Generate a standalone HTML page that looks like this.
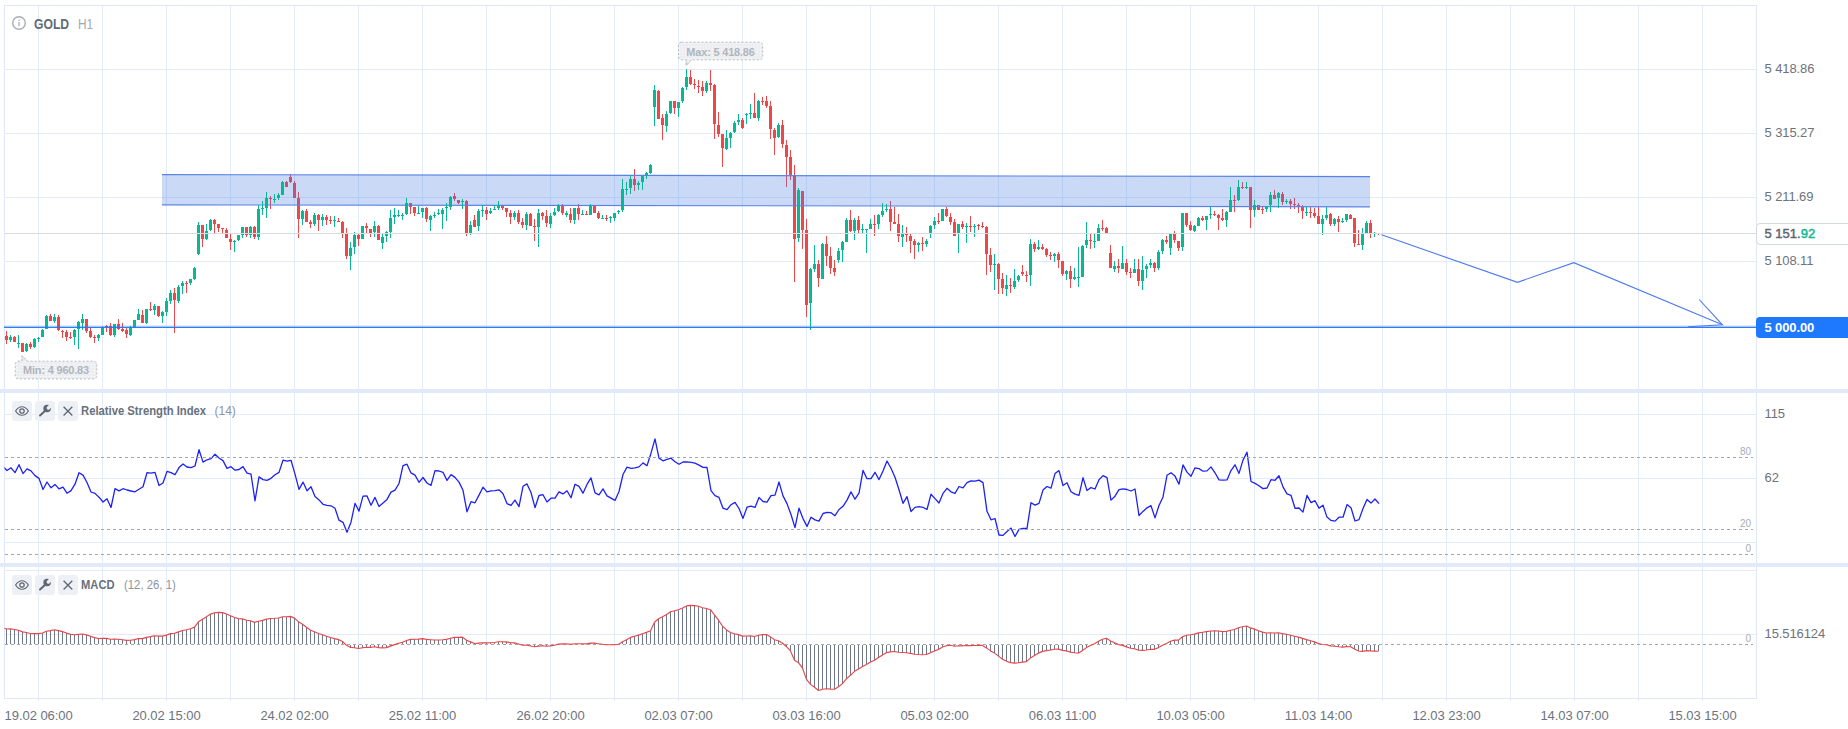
<!DOCTYPE html>
<html><head><meta charset="utf-8"><title>GOLD H1</title>
<style>
html,body{margin:0;padding:0;background:#fff;}
body{width:1848px;height:729px;position:relative;overflow:hidden;font-family:"Liberation Sans",sans-serif;}
#chart{position:absolute;left:0;top:0;}
.ax{position:absolute;left:1764.5px;font-size:13px;line-height:16px;color:#6d737b;white-space:nowrap;letter-spacing:-0.1px}
.tl{position:absolute;top:708px;font-size:13px;line-height:16px;color:#6d737b;white-space:nowrap;letter-spacing:-0.04px}
.tl.c{transform:translateX(-50%);}
.sm{position:absolute;font-size:10px;line-height:12px;color:#a9aeb6;text-align:right;width:30px;left:1721px}
.btn{position:absolute;width:20px;height:20px;border-radius:3px;background:#edf0f5;}
.btn svg{display:block}
.ttl{position:absolute;font-size:12px;line-height:14px;color:#68717d;white-space:nowrap;font-weight:bold;transform-origin:0 50%;}
.par{position:absolute;font-size:12px;line-height:14px;color:#8d949e;white-space:nowrap;transform-origin:0 50%;}
.tag{position:absolute;font-size:11px;line-height:16px;height:16px;font-weight:bold;color:#b1b5bc;letter-spacing:-0.2px;white-space:nowrap;text-align:center;}
</style></head><body>
<svg id="chart" width="1848" height="729" viewBox="0 0 1848 729" shape-rendering="crispEdges">
<defs><clipPath id="cl"><rect x="4.5" y="0" width="1752" height="729"/></clipPath></defs>
<rect x="38" y="5" width="1" height="694" fill="#e3ebfb"/>
<rect x="102" y="5" width="1" height="694" fill="#e3ebfb"/>
<rect x="166" y="5" width="1" height="694" fill="#e3ebfb"/>
<rect x="230" y="5" width="1" height="694" fill="#e3ebfb"/>
<rect x="294" y="5" width="1" height="694" fill="#e3ebfb"/>
<rect x="358" y="5" width="1" height="694" fill="#e3ebfb"/>
<rect x="422" y="5" width="1" height="694" fill="#e3ebfb"/>
<rect x="486" y="5" width="1" height="694" fill="#e3ebfb"/>
<rect x="550" y="5" width="1" height="694" fill="#e3ebfb"/>
<rect x="614" y="5" width="1" height="694" fill="#e3ebfb"/>
<rect x="678" y="5" width="1" height="694" fill="#e3ebfb"/>
<rect x="742" y="5" width="1" height="694" fill="#e3ebfb"/>
<rect x="806" y="5" width="1" height="694" fill="#e3ebfb"/>
<rect x="870" y="5" width="1" height="694" fill="#e3ebfb"/>
<rect x="934" y="5" width="1" height="694" fill="#e3ebfb"/>
<rect x="998" y="5" width="1" height="694" fill="#e3ebfb"/>
<rect x="1062" y="5" width="1" height="694" fill="#e3ebfb"/>
<rect x="1126" y="5" width="1" height="694" fill="#e3ebfb"/>
<rect x="1190" y="5" width="1" height="694" fill="#e3ebfb"/>
<rect x="1254" y="5" width="1" height="694" fill="#e3ebfb"/>
<rect x="1318" y="5" width="1" height="694" fill="#e3ebfb"/>
<rect x="1382" y="5" width="1" height="694" fill="#e3ebfb"/>
<rect x="1446" y="5" width="1" height="694" fill="#e3ebfb"/>
<rect x="1510" y="5" width="1" height="694" fill="#e3ebfb"/>
<rect x="1574" y="5" width="1" height="694" fill="#e3ebfb"/>
<rect x="1638" y="5" width="1" height="694" fill="#e3ebfb"/>
<rect x="1702" y="5" width="1" height="694" fill="#e3ebfb"/>
<rect x="4" y="69" width="1753" height="1" fill="#e3ebfb"/>
<rect x="4" y="133" width="1753" height="1" fill="#e3ebfb"/>
<rect x="4" y="197" width="1753" height="1" fill="#e3ebfb"/>
<rect x="4" y="261" width="1753" height="1" fill="#e3ebfb"/>
<rect x="4" y="325" width="1753" height="1" fill="#e3ebfb"/>
<rect x="4" y="414" width="1753" height="1" fill="#e3ebfb"/>
<rect x="4" y="478" width="1753" height="1" fill="#e3ebfb"/>
<rect x="4" y="542" width="1753" height="1" fill="#e3ebfb"/>
<rect x="4" y="570" width="1753" height="1" fill="#e3ebfb"/>
<rect x="4" y="634" width="1753" height="1" fill="#e3ebfb"/>
<rect x="4" y="5" width="1753" height="1" fill="#dfe7fb"/>
<rect x="4" y="698" width="1753" height="1" fill="#dfe7fb"/>
<rect x="4" y="5" width="1" height="694" fill="#dfe7fb"/>
<rect x="1756" y="5" width="1" height="694" fill="#dfe7fb"/>
<rect x="38" y="699" width="1" height="2" fill="#dfe7fb"/>
<rect x="102" y="699" width="1" height="2" fill="#dfe7fb"/>
<rect x="166" y="699" width="1" height="2" fill="#dfe7fb"/>
<rect x="230" y="699" width="1" height="2" fill="#dfe7fb"/>
<rect x="294" y="699" width="1" height="2" fill="#dfe7fb"/>
<rect x="358" y="699" width="1" height="2" fill="#dfe7fb"/>
<rect x="422" y="699" width="1" height="2" fill="#dfe7fb"/>
<rect x="486" y="699" width="1" height="2" fill="#dfe7fb"/>
<rect x="550" y="699" width="1" height="2" fill="#dfe7fb"/>
<rect x="614" y="699" width="1" height="2" fill="#dfe7fb"/>
<rect x="678" y="699" width="1" height="2" fill="#dfe7fb"/>
<rect x="742" y="699" width="1" height="2" fill="#dfe7fb"/>
<rect x="806" y="699" width="1" height="2" fill="#dfe7fb"/>
<rect x="870" y="699" width="1" height="2" fill="#dfe7fb"/>
<rect x="934" y="699" width="1" height="2" fill="#dfe7fb"/>
<rect x="998" y="699" width="1" height="2" fill="#dfe7fb"/>
<rect x="1062" y="699" width="1" height="2" fill="#dfe7fb"/>
<rect x="1126" y="699" width="1" height="2" fill="#dfe7fb"/>
<rect x="1190" y="699" width="1" height="2" fill="#dfe7fb"/>
<rect x="1254" y="699" width="1" height="2" fill="#dfe7fb"/>
<rect x="1318" y="699" width="1" height="2" fill="#dfe7fb"/>
<rect x="1382" y="699" width="1" height="2" fill="#dfe7fb"/>
<rect x="1446" y="699" width="1" height="2" fill="#dfe7fb"/>
<rect x="1510" y="699" width="1" height="2" fill="#dfe7fb"/>
<rect x="1574" y="699" width="1" height="2" fill="#dfe7fb"/>
<rect x="1638" y="699" width="1" height="2" fill="#dfe7fb"/>
<rect x="1702" y="699" width="1" height="2" fill="#dfe7fb"/>
<rect x="0" y="389" width="1848" height="4" fill="#e2e9f9"/>
<rect x="0" y="563" width="1848" height="4" fill="#e2e9f9"/>
<g><rect x="6.0" y="331.3" width="1" height="12.8" fill="#ec4749"/><rect x="5.0" y="336.1" width="3" height="4.2" fill="#ec4749"/><rect x="14.0" y="336.1" width="1" height="5.7" fill="#ec4749"/><rect x="13.0" y="336.6" width="3" height="5.2" fill="#ec4749"/><rect x="22.0" y="343.1" width="1" height="8.8" fill="#ec4749"/><rect x="21.0" y="343.1" width="3" height="8.8" fill="#ec4749"/><rect x="30.0" y="342.0" width="1" height="6.9" fill="#ec4749"/><rect x="29.0" y="344.1" width="3" height="3.0" fill="#ec4749"/><rect x="50.0" y="314.2" width="1" height="6.6" fill="#ec4749"/><rect x="49.0" y="316.0" width="3" height="4.8" fill="#ec4749"/><rect x="58.0" y="315.0" width="1" height="15.8" fill="#ec4749"/><rect x="57.0" y="316.7" width="3" height="13.3" fill="#ec4749"/><rect x="62.0" y="330.0" width="1" height="7.9" fill="#ec4749"/><rect x="61.0" y="330.8" width="3" height="1.0" fill="#ec4749"/><rect x="66.0" y="330.0" width="1" height="10.9" fill="#ec4749"/><rect x="65.0" y="332.0" width="3" height="4.8" fill="#ec4749"/><rect x="70.0" y="332.0" width="1" height="7.0" fill="#ec4749"/><rect x="69.0" y="336.8" width="3" height="1.4" fill="#ec4749"/><rect x="86.0" y="319.1" width="1" height="13.7" fill="#ec4749"/><rect x="85.0" y="319.1" width="3" height="11.7" fill="#ec4749"/><rect x="90.0" y="327.9" width="1" height="10.0" fill="#ec4749"/><rect x="89.0" y="331.1" width="3" height="6.1" fill="#ec4749"/><rect x="94.0" y="335.2" width="1" height="7.5" fill="#ec4749"/><rect x="93.0" y="336.8" width="3" height="1.1" fill="#ec4749"/><rect x="106.0" y="324.9" width="1" height="6.8" fill="#ec4749"/><rect x="105.0" y="325.6" width="3" height="1.8" fill="#ec4749"/><rect x="110.0" y="323.1" width="1" height="12.8" fill="#ec4749"/><rect x="109.0" y="325.6" width="3" height="9.6" fill="#ec4749"/><rect x="118.0" y="319.1" width="1" height="10.9" fill="#ec4749"/><rect x="117.0" y="324.2" width="3" height="4.5" fill="#ec4749"/><rect x="122.0" y="323.1" width="1" height="8.9" fill="#ec4749"/><rect x="121.0" y="329.3" width="3" height="1.8" fill="#ec4749"/><rect x="126.0" y="328.3" width="1" height="9.6" fill="#ec4749"/><rect x="125.0" y="330.0" width="3" height="4.1" fill="#ec4749"/><rect x="142.0" y="310.2" width="1" height="12.6" fill="#ec4749"/><rect x="141.0" y="314.6" width="3" height="8.2" fill="#ec4749"/><rect x="150.0" y="302.2" width="1" height="9.0" fill="#ec4749"/><rect x="149.0" y="308.8" width="3" height="1.4" fill="#ec4749"/><rect x="158.0" y="306.1" width="1" height="11.0" fill="#ec4749"/><rect x="157.0" y="306.1" width="3" height="10.1" fill="#ec4749"/><rect x="174.0" y="288.0" width="1" height="45.0" fill="#ec4749"/><rect x="173.0" y="293.2" width="3" height="6.8" fill="#ec4749"/><rect x="186.0" y="281.2" width="1" height="11.9" fill="#ec4749"/><rect x="185.0" y="282.9" width="3" height="1.0" fill="#ec4749"/><rect x="202.0" y="224.9" width="1" height="22.2" fill="#ec4749"/><rect x="201.0" y="224.9" width="3" height="14.0" fill="#ec4749"/><rect x="214.0" y="219.0" width="1" height="14.1" fill="#ec4749"/><rect x="213.0" y="220.0" width="3" height="3.8" fill="#ec4749"/><rect x="218.0" y="224.1" width="1" height="7.9" fill="#ec4749"/><rect x="217.0" y="224.1" width="3" height="4.1" fill="#ec4749"/><rect x="222.0" y="228.2" width="1" height="4.5" fill="#ec4749"/><rect x="221.0" y="228.1" width="3" height="1.0" fill="#ec4749"/><rect x="226.0" y="227.9" width="1" height="10.0" fill="#ec4749"/><rect x="225.0" y="230.0" width="3" height="7.9" fill="#ec4749"/><rect x="230.0" y="234.1" width="1" height="16.1" fill="#ec4749"/><rect x="229.0" y="238.9" width="3" height="3.2" fill="#ec4749"/><rect x="246.0" y="227.0" width="1" height="9.8" fill="#ec4749"/><rect x="245.0" y="227.0" width="3" height="8.1" fill="#ec4749"/><rect x="254.0" y="225.9" width="1" height="13.0" fill="#ec4749"/><rect x="253.0" y="227.0" width="3" height="10.1" fill="#ec4749"/><rect x="270.0" y="196.0" width="1" height="13.0" fill="#ec4749"/><rect x="269.0" y="198.1" width="3" height="1.0" fill="#ec4749"/><rect x="286.0" y="181.0" width="1" height="5.8" fill="#ec4749"/><rect x="285.0" y="182.0" width="3" height="4.8" fill="#ec4749"/><rect x="290.0" y="174.1" width="1" height="8.8" fill="#ec4749"/><rect x="289.0" y="177.4" width="3" height="4.6" fill="#ec4749"/><rect x="294.0" y="181.0" width="1" height="16.7" fill="#ec4749"/><rect x="293.0" y="182.9" width="3" height="14.8" fill="#ec4749"/><rect x="298.0" y="192.0" width="1" height="45.9" fill="#ec4749"/><rect x="297.0" y="198.1" width="3" height="20.6" fill="#ec4749"/><rect x="306.0" y="209.0" width="1" height="12.7" fill="#ec4749"/><rect x="305.0" y="211.0" width="3" height="10.7" fill="#ec4749"/><rect x="310.0" y="220.0" width="1" height="7.9" fill="#ec4749"/><rect x="309.0" y="222.0" width="3" height="1.8" fill="#ec4749"/><rect x="318.0" y="213.9" width="1" height="17.0" fill="#ec4749"/><rect x="317.0" y="214.9" width="3" height="4.8" fill="#ec4749"/><rect x="326.0" y="214.9" width="1" height="10.0" fill="#ec4749"/><rect x="325.0" y="216.9" width="3" height="3.1" fill="#ec4749"/><rect x="330.0" y="216.0" width="1" height="7.8" fill="#ec4749"/><rect x="329.0" y="220.0" width="3" height="1.1" fill="#ec4749"/><rect x="338.0" y="217.9" width="1" height="3.8" fill="#ec4749"/><rect x="337.0" y="220.8" width="3" height="1.0" fill="#ec4749"/><rect x="342.0" y="221.1" width="1" height="16.8" fill="#ec4749"/><rect x="341.0" y="222.0" width="3" height="11.0" fill="#ec4749"/><rect x="346.0" y="228.0" width="1" height="30.9" fill="#ec4749"/><rect x="345.0" y="233.9" width="3" height="21.6" fill="#ec4749"/><rect x="358.0" y="233.9" width="1" height="12.0" fill="#ec4749"/><rect x="357.0" y="234.9" width="3" height="3.8" fill="#ec4749"/><rect x="366.0" y="223.2" width="1" height="9.6" fill="#ec4749"/><rect x="365.0" y="226.2" width="3" height="1.8" fill="#ec4749"/><rect x="370.0" y="229.1" width="1" height="7.6" fill="#ec4749"/><rect x="369.0" y="229.1" width="3" height="4.0" fill="#ec4749"/><rect x="378.0" y="225.0" width="1" height="14.7" fill="#ec4749"/><rect x="377.0" y="226.2" width="3" height="13.5" fill="#ec4749"/><rect x="410.0" y="202.9" width="1" height="11.1" fill="#ec4749"/><rect x="409.0" y="203.3" width="3" height="3.5" fill="#ec4749"/><rect x="414.0" y="207.0" width="1" height="9.0" fill="#ec4749"/><rect x="413.0" y="207.0" width="3" height="5.9" fill="#ec4749"/><rect x="426.0" y="207.0" width="1" height="14.9" fill="#ec4749"/><rect x="425.0" y="208.1" width="3" height="11.0" fill="#ec4749"/><rect x="454.0" y="193.0" width="1" height="7.9" fill="#ec4749"/><rect x="453.0" y="196.1" width="3" height="2.8" fill="#ec4749"/><rect x="458.0" y="200.2" width="1" height="3.8" fill="#ec4749"/><rect x="457.0" y="200.2" width="3" height="2.7" fill="#ec4749"/><rect x="466.0" y="199.9" width="1" height="35.9" fill="#ec4749"/><rect x="465.0" y="200.9" width="3" height="31.9" fill="#ec4749"/><rect x="474.0" y="215.0" width="1" height="11.9" fill="#ec4749"/><rect x="473.0" y="220.1" width="3" height="6.8" fill="#ec4749"/><rect x="486.0" y="207.0" width="1" height="13.1" fill="#ec4749"/><rect x="485.0" y="210.2" width="3" height="3.8" fill="#ec4749"/><rect x="502.0" y="204.9" width="1" height="5.1" fill="#ec4749"/><rect x="501.0" y="204.9" width="3" height="3.0" fill="#ec4749"/><rect x="506.0" y="208.3" width="1" height="8.7" fill="#ec4749"/><rect x="505.0" y="208.3" width="3" height="3.4" fill="#ec4749"/><rect x="510.0" y="210.0" width="1" height="14.1" fill="#ec4749"/><rect x="509.0" y="213.1" width="3" height="3.9" fill="#ec4749"/><rect x="518.0" y="210.0" width="1" height="14.1" fill="#ec4749"/><rect x="517.0" y="213.1" width="3" height="8.9" fill="#ec4749"/><rect x="522.0" y="218.2" width="1" height="9.7" fill="#ec4749"/><rect x="521.0" y="222.0" width="3" height="3.1" fill="#ec4749"/><rect x="530.0" y="213.1" width="1" height="12.8" fill="#ec4749"/><rect x="529.0" y="214.1" width="3" height="11.8" fill="#ec4749"/><rect x="534.0" y="219.0" width="1" height="22.0" fill="#ec4749"/><rect x="533.0" y="225.9" width="3" height="1.0" fill="#ec4749"/><rect x="542.0" y="212.0" width="1" height="8.0" fill="#ec4749"/><rect x="541.0" y="213.1" width="3" height="2.8" fill="#ec4749"/><rect x="546.0" y="210.0" width="1" height="17.1" fill="#ec4749"/><rect x="545.0" y="216.1" width="3" height="7.0" fill="#ec4749"/><rect x="562.0" y="203.9" width="1" height="11.3" fill="#ec4749"/><rect x="561.0" y="205.8" width="3" height="6.9" fill="#ec4749"/><rect x="570.0" y="207.9" width="1" height="15.2" fill="#ec4749"/><rect x="569.0" y="214.1" width="3" height="5.9" fill="#ec4749"/><rect x="578.0" y="203.9" width="1" height="16.1" fill="#ec4749"/><rect x="577.0" y="207.9" width="3" height="6.2" fill="#ec4749"/><rect x="586.0" y="211.1" width="1" height="3.8" fill="#ec4749"/><rect x="585.0" y="214.0" width="3" height="1.0" fill="#ec4749"/><rect x="594.0" y="205.8" width="1" height="6.9" fill="#ec4749"/><rect x="593.0" y="205.8" width="3" height="6.9" fill="#ec4749"/><rect x="598.0" y="211.1" width="1" height="7.9" fill="#ec4749"/><rect x="597.0" y="213.1" width="3" height="4.8" fill="#ec4749"/><rect x="606.0" y="215.2" width="1" height="5.7" fill="#ec4749"/><rect x="605.0" y="217.9" width="3" height="1.1" fill="#ec4749"/><rect x="634.0" y="168.9" width="1" height="22.0" fill="#ec4749"/><rect x="633.0" y="179.1" width="3" height="5.9" fill="#ec4749"/><rect x="658.0" y="89.9" width="1" height="28.8" fill="#ec4749"/><rect x="657.0" y="90.9" width="3" height="27.8" fill="#ec4749"/><rect x="662.0" y="113.9" width="1" height="26.1" fill="#ec4749"/><rect x="661.0" y="117.9" width="3" height="6.9" fill="#ec4749"/><rect x="674.0" y="101.2" width="1" height="12.7" fill="#ec4749"/><rect x="673.0" y="101.2" width="3" height="6.6" fill="#ec4749"/><rect x="690.0" y="70.0" width="1" height="15.1" fill="#ec4749"/><rect x="689.0" y="76.9" width="3" height="7.1" fill="#ec4749"/><rect x="694.0" y="78.9" width="1" height="10.2" fill="#ec4749"/><rect x="693.0" y="84.0" width="3" height="1.1" fill="#ec4749"/><rect x="698.0" y="79.9" width="1" height="13.0" fill="#ec4749"/><rect x="697.0" y="85.8" width="3" height="1.0" fill="#ec4749"/><rect x="702.0" y="80.9" width="1" height="15.1" fill="#ec4749"/><rect x="701.0" y="87.0" width="3" height="3.9" fill="#ec4749"/><rect x="710.0" y="70.0" width="1" height="20.9" fill="#ec4749"/><rect x="709.0" y="83.3" width="3" height="1.7" fill="#ec4749"/><rect x="714.0" y="84.0" width="1" height="54.9" fill="#ec4749"/><rect x="713.0" y="85.0" width="3" height="38.8" fill="#ec4749"/><rect x="718.0" y="112.1" width="1" height="24.7" fill="#ec4749"/><rect x="717.0" y="125.2" width="3" height="8.9" fill="#ec4749"/><rect x="722.0" y="134.1" width="1" height="32.5" fill="#ec4749"/><rect x="721.0" y="134.1" width="3" height="13.7" fill="#ec4749"/><rect x="742.0" y="117.9" width="1" height="11.1" fill="#ec4749"/><rect x="741.0" y="120.0" width="3" height="7.9" fill="#ec4749"/><rect x="754.0" y="92.9" width="1" height="25.0" fill="#ec4749"/><rect x="753.0" y="113.1" width="3" height="4.8" fill="#ec4749"/><rect x="762.0" y="97.0" width="1" height="8.0" fill="#ec4749"/><rect x="761.0" y="100.9" width="3" height="1.0" fill="#ec4749"/><rect x="766.0" y="96.0" width="1" height="12.0" fill="#ec4749"/><rect x="765.0" y="100.9" width="3" height="5.1" fill="#ec4749"/><rect x="770.0" y="100.9" width="1" height="38.0" fill="#ec4749"/><rect x="769.0" y="106.0" width="3" height="22.9" fill="#ec4749"/><rect x="774.0" y="127.9" width="1" height="27.1" fill="#ec4749"/><rect x="773.0" y="130.0" width="3" height="7.9" fill="#ec4749"/><rect x="782.0" y="120.0" width="1" height="27.8" fill="#ec4749"/><rect x="781.0" y="124.9" width="3" height="18.8" fill="#ec4749"/><rect x="786.0" y="140.0" width="1" height="46.7" fill="#ec4749"/><rect x="785.0" y="145.1" width="3" height="11.9" fill="#ec4749"/><rect x="790.0" y="149.9" width="1" height="29.9" fill="#ec4749"/><rect x="789.0" y="157.0" width="3" height="18.0" fill="#ec4749"/><rect x="794.0" y="164.9" width="1" height="117.2" fill="#ec4749"/><rect x="793.0" y="176.1" width="3" height="62.8" fill="#ec4749"/><rect x="802.0" y="191.0" width="1" height="57.9" fill="#ec4749"/><rect x="801.0" y="191.0" width="3" height="39.0" fill="#ec4749"/><rect x="806.0" y="219.0" width="1" height="98.0" fill="#ec4749"/><rect x="805.0" y="230.0" width="3" height="74.8" fill="#ec4749"/><rect x="818.0" y="259.9" width="1" height="27.0" fill="#ec4749"/><rect x="817.0" y="264.0" width="3" height="14.0" fill="#ec4749"/><rect x="826.0" y="235.9" width="1" height="30.0" fill="#ec4749"/><rect x="825.0" y="244.0" width="3" height="11.8" fill="#ec4749"/><rect x="830.0" y="247.1" width="1" height="26.8" fill="#ec4749"/><rect x="829.0" y="256.1" width="3" height="11.9" fill="#ec4749"/><rect x="834.0" y="259.9" width="1" height="16.1" fill="#ec4749"/><rect x="833.0" y="268.0" width="3" height="3.8" fill="#ec4749"/><rect x="850.0" y="210.1" width="1" height="21.9" fill="#ec4749"/><rect x="849.0" y="220.0" width="3" height="11.0" fill="#ec4749"/><rect x="858.0" y="215.9" width="1" height="17.2" fill="#ec4749"/><rect x="857.0" y="220.0" width="3" height="10.0" fill="#ec4749"/><rect x="874.0" y="214.9" width="1" height="21.0" fill="#ec4749"/><rect x="873.0" y="224.0" width="3" height="1.0" fill="#ec4749"/><rect x="890.0" y="200.9" width="1" height="30.1" fill="#ec4749"/><rect x="889.0" y="208.7" width="3" height="13.1" fill="#ec4749"/><rect x="894.0" y="207.1" width="1" height="16.7" fill="#ec4749"/><rect x="893.0" y="222.4" width="3" height="1.4" fill="#ec4749"/><rect x="898.0" y="213.9" width="1" height="28.0" fill="#ec4749"/><rect x="897.0" y="224.1" width="3" height="11.8" fill="#ec4749"/><rect x="906.0" y="227.0" width="1" height="14.9" fill="#ec4749"/><rect x="905.0" y="234.1" width="3" height="1.0" fill="#ec4749"/><rect x="910.0" y="234.1" width="1" height="18.8" fill="#ec4749"/><rect x="909.0" y="235.9" width="3" height="5.1" fill="#ec4749"/><rect x="914.0" y="238.9" width="1" height="20.2" fill="#ec4749"/><rect x="913.0" y="241.0" width="3" height="3.8" fill="#ec4749"/><rect x="922.0" y="236.9" width="1" height="13.9" fill="#ec4749"/><rect x="921.0" y="243.0" width="3" height="1.0" fill="#ec4749"/><rect x="938.0" y="213.0" width="1" height="11.0" fill="#ec4749"/><rect x="937.0" y="221.2" width="3" height="1.0" fill="#ec4749"/><rect x="946.0" y="206.9" width="1" height="10.0" fill="#ec4749"/><rect x="945.0" y="208.9" width="3" height="6.9" fill="#ec4749"/><rect x="950.0" y="213.0" width="1" height="12.0" fill="#ec4749"/><rect x="949.0" y="217.2" width="3" height="4.8" fill="#ec4749"/><rect x="954.0" y="218.9" width="1" height="17.1" fill="#ec4749"/><rect x="953.0" y="222.0" width="3" height="14.0" fill="#ec4749"/><rect x="962.0" y="221.0" width="1" height="8.1" fill="#ec4749"/><rect x="961.0" y="224.0" width="3" height="2.8" fill="#ec4749"/><rect x="970.0" y="216.1" width="1" height="15.9" fill="#ec4749"/><rect x="969.0" y="226.1" width="3" height="1.3" fill="#ec4749"/><rect x="978.0" y="224.0" width="1" height="5.9" fill="#ec4749"/><rect x="977.0" y="224.9" width="3" height="1.0" fill="#ec4749"/><rect x="982.0" y="222.0" width="1" height="5.9" fill="#ec4749"/><rect x="981.0" y="225.8" width="3" height="1.0" fill="#ec4749"/><rect x="986.0" y="226.1" width="1" height="49.0" fill="#ec4749"/><rect x="985.0" y="227.0" width="3" height="26.9" fill="#ec4749"/><rect x="990.0" y="248.0" width="1" height="24.0" fill="#ec4749"/><rect x="989.0" y="254.9" width="3" height="10.0" fill="#ec4749"/><rect x="998.0" y="262.8" width="1" height="31.2" fill="#ec4749"/><rect x="997.0" y="263.8" width="3" height="15.1" fill="#ec4749"/><rect x="1002.0" y="273.1" width="1" height="20.9" fill="#ec4749"/><rect x="1001.0" y="279.2" width="3" height="8.6" fill="#ec4749"/><rect x="1010.0" y="277.9" width="1" height="15.1" fill="#ec4749"/><rect x="1009.0" y="285.1" width="3" height="1.0" fill="#ec4749"/><rect x="1022.0" y="264.9" width="1" height="11.0" fill="#ec4749"/><rect x="1021.0" y="272.0" width="3" height="2.1" fill="#ec4749"/><rect x="1026.0" y="270.9" width="1" height="11.0" fill="#ec4749"/><rect x="1025.0" y="274.8" width="3" height="1.0" fill="#ec4749"/><rect x="1034.0" y="242.1" width="1" height="9.8" fill="#ec4749"/><rect x="1033.0" y="243.9" width="3" height="5.1" fill="#ec4749"/><rect x="1042.0" y="243.9" width="1" height="6.2" fill="#ec4749"/><rect x="1041.0" y="246.9" width="3" height="2.1" fill="#ec4749"/><rect x="1046.0" y="248.0" width="1" height="8.9" fill="#ec4749"/><rect x="1045.0" y="249.0" width="3" height="5.9" fill="#ec4749"/><rect x="1050.0" y="252.1" width="1" height="7.9" fill="#ec4749"/><rect x="1049.0" y="255.2" width="3" height="1.1" fill="#ec4749"/><rect x="1058.0" y="252.1" width="1" height="15.8" fill="#ec4749"/><rect x="1057.0" y="253.9" width="3" height="6.1" fill="#ec4749"/><rect x="1062.0" y="261.1" width="1" height="14.8" fill="#ec4749"/><rect x="1061.0" y="261.1" width="3" height="13.0" fill="#ec4749"/><rect x="1070.0" y="266.1" width="1" height="21.7" fill="#ec4749"/><rect x="1069.0" y="270.9" width="3" height="8.0" fill="#ec4749"/><rect x="1090.0" y="234.1" width="1" height="14.8" fill="#ec4749"/><rect x="1089.0" y="240.0" width="3" height="1.0" fill="#ec4749"/><rect x="1102.0" y="220.1" width="1" height="10.9" fill="#ec4749"/><rect x="1101.0" y="227.9" width="3" height="1.0" fill="#ec4749"/><rect x="1106.0" y="227.0" width="1" height="5.7" fill="#ec4749"/><rect x="1105.0" y="227.9" width="3" height="4.8" fill="#ec4749"/><rect x="1110.0" y="245.1" width="1" height="22.9" fill="#ec4749"/><rect x="1109.0" y="252.9" width="3" height="15.1" fill="#ec4749"/><rect x="1118.0" y="259.1" width="1" height="13.8" fill="#ec4749"/><rect x="1117.0" y="265.9" width="3" height="1.8" fill="#ec4749"/><rect x="1126.0" y="259.1" width="1" height="15.9" fill="#ec4749"/><rect x="1125.0" y="262.9" width="3" height="9.2" fill="#ec4749"/><rect x="1130.0" y="268.1" width="1" height="9.9" fill="#ec4749"/><rect x="1129.0" y="272.1" width="3" height="1.0" fill="#ec4749"/><rect x="1138.0" y="259.1" width="1" height="26.9" fill="#ec4749"/><rect x="1137.0" y="269.1" width="3" height="11.9" fill="#ec4749"/><rect x="1154.0" y="262.0" width="1" height="9.8" fill="#ec4749"/><rect x="1153.0" y="262.9" width="3" height="5.1" fill="#ec4749"/><rect x="1166.0" y="235.9" width="1" height="8.1" fill="#ec4749"/><rect x="1165.0" y="240.0" width="3" height="1.9" fill="#ec4749"/><rect x="1174.0" y="231.0" width="1" height="12.0" fill="#ec4749"/><rect x="1173.0" y="234.1" width="3" height="5.9" fill="#ec4749"/><rect x="1178.0" y="241.0" width="1" height="9.8" fill="#ec4749"/><rect x="1177.0" y="241.0" width="3" height="6.8" fill="#ec4749"/><rect x="1186.0" y="212.8" width="1" height="14.2" fill="#ec4749"/><rect x="1185.0" y="212.8" width="3" height="12.1" fill="#ec4749"/><rect x="1190.0" y="221.1" width="1" height="9.9" fill="#ec4749"/><rect x="1189.0" y="225.2" width="3" height="4.8" fill="#ec4749"/><rect x="1202.0" y="216.0" width="1" height="5.1" fill="#ec4749"/><rect x="1201.0" y="217.9" width="3" height="2.1" fill="#ec4749"/><rect x="1214.0" y="211.1" width="1" height="4.9" fill="#ec4749"/><rect x="1213.0" y="213.9" width="3" height="1.1" fill="#ec4749"/><rect x="1218.0" y="213.9" width="1" height="16.1" fill="#ec4749"/><rect x="1217.0" y="215.2" width="3" height="2.7" fill="#ec4749"/><rect x="1222.0" y="209.1" width="1" height="12.0" fill="#ec4749"/><rect x="1221.0" y="218.3" width="3" height="1.8" fill="#ec4749"/><rect x="1234.0" y="194.9" width="1" height="17.0" fill="#ec4749"/><rect x="1233.0" y="199.9" width="3" height="1.0" fill="#ec4749"/><rect x="1242.0" y="182.2" width="1" height="6.8" fill="#ec4749"/><rect x="1241.0" y="186.9" width="3" height="1.0" fill="#ec4749"/><rect x="1250.0" y="187.0" width="1" height="40.8" fill="#ec4749"/><rect x="1249.0" y="187.0" width="3" height="22.9" fill="#ec4749"/><rect x="1258.0" y="205.1" width="1" height="4.8" fill="#ec4749"/><rect x="1257.0" y="205.1" width="3" height="4.8" fill="#ec4749"/><rect x="1262.0" y="206.8" width="1" height="7.2" fill="#ec4749"/><rect x="1261.0" y="208.9" width="3" height="1.0" fill="#ec4749"/><rect x="1274.0" y="190.1" width="1" height="8.5" fill="#ec4749"/><rect x="1273.0" y="195.2" width="3" height="3.4" fill="#ec4749"/><rect x="1282.0" y="192.0" width="1" height="13.1" fill="#ec4749"/><rect x="1281.0" y="194.1" width="3" height="7.9" fill="#ec4749"/><rect x="1290.0" y="199.0" width="1" height="9.9" fill="#ec4749"/><rect x="1289.0" y="200.9" width="3" height="2.9" fill="#ec4749"/><rect x="1294.0" y="197.9" width="1" height="11.0" fill="#ec4749"/><rect x="1293.0" y="204.1" width="3" height="1.0" fill="#ec4749"/><rect x="1298.0" y="203.1" width="1" height="9.9" fill="#ec4749"/><rect x="1297.0" y="204.7" width="3" height="1.0" fill="#ec4749"/><rect x="1302.0" y="205.1" width="1" height="13.8" fill="#ec4749"/><rect x="1301.0" y="207.1" width="3" height="3.9" fill="#ec4749"/><rect x="1310.0" y="207.1" width="1" height="11.0" fill="#ec4749"/><rect x="1309.0" y="212.1" width="3" height="1.0" fill="#ec4749"/><rect x="1314.0" y="207.9" width="1" height="10.2" fill="#ec4749"/><rect x="1313.0" y="213.0" width="3" height="3.0" fill="#ec4749"/><rect x="1318.0" y="207.1" width="1" height="16.9" fill="#ec4749"/><rect x="1317.0" y="216.0" width="3" height="8.0" fill="#ec4749"/><rect x="1330.0" y="213.0" width="1" height="13.1" fill="#ec4749"/><rect x="1329.0" y="214.0" width="3" height="10.0" fill="#ec4749"/><rect x="1338.0" y="216.0" width="1" height="16.0" fill="#ec4749"/><rect x="1337.0" y="218.9" width="3" height="3.0" fill="#ec4749"/><rect x="1350.0" y="214.0" width="1" height="4.9" fill="#ec4749"/><rect x="1349.0" y="215.1" width="3" height="3.8" fill="#ec4749"/><rect x="1354.0" y="218.1" width="1" height="28.8" fill="#ec4749"/><rect x="1353.0" y="218.1" width="3" height="24.8" fill="#ec4749"/><rect x="1358.0" y="229.9" width="1" height="15.0" fill="#ec4749"/><rect x="1357.0" y="243.9" width="3" height="1.0" fill="#ec4749"/><rect x="1370.0" y="219.9" width="1" height="18.1" fill="#ec4749"/><rect x="1369.0" y="222.9" width="3" height="10.3" fill="#ec4749"/><rect x="1378.0" y="234.3" width="1" height="1" fill="#ec4749"/></g>
<polygon shape-rendering="geometricPrecision" points="162,174.6 1370,176.6 1370,206.8 162,204.8" fill="#4a7be0" fill-opacity="0.29"/>
<line shape-rendering="geometricPrecision" x1="162" y1="174.6" x2="1370" y2="176.6" stroke="#5a82e6" stroke-width="1.15"/>
<line shape-rendering="geometricPrecision" x1="162" y1="204.8" x2="1370" y2="206.8" stroke="#5a82e6" stroke-width="1.15"/>
<g><rect x="10.0" y="335.2" width="1" height="6.4" fill="#0bb793"/><rect x="9.0" y="336.8" width="3" height="3.5" fill="#0bb793"/><rect x="18.0" y="335.2" width="1" height="12.7" fill="#0bb793"/><rect x="17.0" y="343.1" width="3" height="1.0" fill="#0bb793"/><rect x="26.0" y="343.4" width="1" height="8.5" fill="#0bb793"/><rect x="25.0" y="344.1" width="3" height="7.1" fill="#0bb793"/><rect x="34.0" y="337.9" width="1" height="10.0" fill="#0bb793"/><rect x="33.0" y="339.0" width="3" height="8.1" fill="#0bb793"/><rect x="38.0" y="336.6" width="1" height="5.4" fill="#0bb793"/><rect x="37.0" y="337.6" width="3" height="1.0" fill="#0bb793"/><rect x="42.0" y="329.0" width="1" height="7.8" fill="#0bb793"/><rect x="41.0" y="329.7" width="3" height="7.1" fill="#0bb793"/><rect x="46.0" y="315.0" width="1" height="13.7" fill="#0bb793"/><rect x="45.0" y="316.0" width="3" height="12.7" fill="#0bb793"/><rect x="54.0" y="314.2" width="1" height="8.6" fill="#0bb793"/><rect x="53.0" y="316.9" width="3" height="4.1" fill="#0bb793"/><rect x="74.0" y="329.0" width="1" height="15.8" fill="#0bb793"/><rect x="73.0" y="329.7" width="3" height="7.1" fill="#0bb793"/><rect x="78.0" y="321.0" width="1" height="27.9" fill="#0bb793"/><rect x="77.0" y="321.9" width="3" height="6.8" fill="#0bb793"/><rect x="82.0" y="314.2" width="1" height="15.8" fill="#0bb793"/><rect x="81.0" y="319.1" width="3" height="3.7" fill="#0bb793"/><rect x="98.0" y="334.1" width="1" height="6.8" fill="#0bb793"/><rect x="97.0" y="335.2" width="3" height="2.7" fill="#0bb793"/><rect x="102.0" y="326.3" width="1" height="8.5" fill="#0bb793"/><rect x="101.0" y="327.4" width="3" height="7.4" fill="#0bb793"/><rect x="114.0" y="324.2" width="1" height="12.6" fill="#0bb793"/><rect x="113.0" y="324.2" width="3" height="11.0" fill="#0bb793"/><rect x="130.0" y="326.0" width="1" height="9.9" fill="#0bb793"/><rect x="129.0" y="326.9" width="3" height="8.3" fill="#0bb793"/><rect x="134.0" y="320.1" width="1" height="6.8" fill="#0bb793"/><rect x="133.0" y="320.1" width="3" height="6.8" fill="#0bb793"/><rect x="138.0" y="309.1" width="1" height="10.6" fill="#0bb793"/><rect x="137.0" y="313.9" width="3" height="5.8" fill="#0bb793"/><rect x="146.0" y="309.1" width="1" height="14.7" fill="#0bb793"/><rect x="145.0" y="309.1" width="3" height="13.7" fill="#0bb793"/><rect x="154.0" y="304.0" width="1" height="10.9" fill="#0bb793"/><rect x="153.0" y="306.0" width="3" height="3.8" fill="#0bb793"/><rect x="162.0" y="311.1" width="1" height="11.9" fill="#0bb793"/><rect x="161.0" y="312.0" width="3" height="3.7" fill="#0bb793"/><rect x="166.0" y="298.0" width="1" height="17.9" fill="#0bb793"/><rect x="165.0" y="301.1" width="3" height="10.7" fill="#0bb793"/><rect x="170.0" y="290.1" width="1" height="13.7" fill="#0bb793"/><rect x="169.0" y="293.2" width="3" height="7.6" fill="#0bb793"/><rect x="178.0" y="285.0" width="1" height="17.8" fill="#0bb793"/><rect x="177.0" y="286.7" width="3" height="14.1" fill="#0bb793"/><rect x="182.0" y="281.2" width="1" height="12.7" fill="#0bb793"/><rect x="181.0" y="283.0" width="3" height="3.0" fill="#0bb793"/><rect x="190.0" y="279.1" width="1" height="5.8" fill="#0bb793"/><rect x="189.0" y="279.1" width="3" height="3.9" fill="#0bb793"/><rect x="194.0" y="267.0" width="1" height="13.1" fill="#0bb793"/><rect x="193.0" y="267.9" width="3" height="11.2" fill="#0bb793"/><rect x="198.0" y="222.0" width="1" height="33.0" fill="#0bb793"/><rect x="197.0" y="224.9" width="3" height="29.1" fill="#0bb793"/><rect x="206.0" y="224.1" width="1" height="16.2" fill="#0bb793"/><rect x="205.0" y="231.1" width="3" height="8.2" fill="#0bb793"/><rect x="210.0" y="219.0" width="1" height="12.1" fill="#0bb793"/><rect x="209.0" y="220.0" width="3" height="10.0" fill="#0bb793"/><rect x="234.0" y="240.0" width="1" height="11.9" fill="#0bb793"/><rect x="233.0" y="241.0" width="3" height="1.1" fill="#0bb793"/><rect x="238.0" y="235.1" width="1" height="5.9" fill="#0bb793"/><rect x="237.0" y="235.1" width="3" height="4.9" fill="#0bb793"/><rect x="242.0" y="227.0" width="1" height="10.9" fill="#0bb793"/><rect x="241.0" y="227.0" width="3" height="8.1" fill="#0bb793"/><rect x="250.0" y="225.9" width="1" height="12.0" fill="#0bb793"/><rect x="249.0" y="227.0" width="3" height="8.1" fill="#0bb793"/><rect x="258.0" y="204.6" width="1" height="35.4" fill="#0bb793"/><rect x="257.0" y="209.1" width="3" height="28.0" fill="#0bb793"/><rect x="262.0" y="201.2" width="1" height="13.7" fill="#0bb793"/><rect x="261.0" y="207.6" width="3" height="1.4" fill="#0bb793"/><rect x="266.0" y="192.0" width="1" height="25.9" fill="#0bb793"/><rect x="265.0" y="198.1" width="3" height="9.9" fill="#0bb793"/><rect x="274.0" y="194.0" width="1" height="9.0" fill="#0bb793"/><rect x="273.0" y="199.1" width="3" height="1.0" fill="#0bb793"/><rect x="278.0" y="192.9" width="1" height="7.2" fill="#0bb793"/><rect x="277.0" y="195.0" width="3" height="3.1" fill="#0bb793"/><rect x="282.0" y="180.9" width="1" height="14.1" fill="#0bb793"/><rect x="281.0" y="181.5" width="3" height="13.5" fill="#0bb793"/><rect x="302.0" y="210.1" width="1" height="14.8" fill="#0bb793"/><rect x="301.0" y="211.0" width="3" height="7.7" fill="#0bb793"/><rect x="314.0" y="213.1" width="1" height="12.8" fill="#0bb793"/><rect x="313.0" y="214.9" width="3" height="9.2" fill="#0bb793"/><rect x="322.0" y="213.9" width="1" height="12.0" fill="#0bb793"/><rect x="321.0" y="216.9" width="3" height="3.1" fill="#0bb793"/><rect x="334.0" y="216.0" width="1" height="11.0" fill="#0bb793"/><rect x="333.0" y="220.4" width="3" height="1.0" fill="#0bb793"/><rect x="350.0" y="242.0" width="1" height="27.9" fill="#0bb793"/><rect x="349.0" y="248.2" width="3" height="7.3" fill="#0bb793"/><rect x="354.0" y="232.1" width="1" height="21.7" fill="#0bb793"/><rect x="353.0" y="234.9" width="3" height="11.9" fill="#0bb793"/><rect x="362.0" y="226.2" width="1" height="12.5" fill="#0bb793"/><rect x="361.0" y="226.2" width="3" height="12.5" fill="#0bb793"/><rect x="374.0" y="221.2" width="1" height="15.5" fill="#0bb793"/><rect x="373.0" y="226.2" width="3" height="5.7" fill="#0bb793"/><rect x="382.0" y="233.9" width="1" height="15.0" fill="#0bb793"/><rect x="381.0" y="236.9" width="3" height="5.8" fill="#0bb793"/><rect x="386.0" y="231.0" width="1" height="10.7" fill="#0bb793"/><rect x="385.0" y="232.1" width="3" height="3.7" fill="#0bb793"/><rect x="390.0" y="210.2" width="1" height="27.7" fill="#0bb793"/><rect x="389.0" y="218.1" width="3" height="14.0" fill="#0bb793"/><rect x="394.0" y="208.1" width="1" height="15.8" fill="#0bb793"/><rect x="393.0" y="215.3" width="3" height="1.7" fill="#0bb793"/><rect x="398.0" y="210.2" width="1" height="6.8" fill="#0bb793"/><rect x="397.0" y="215.0" width="3" height="1.0" fill="#0bb793"/><rect x="402.0" y="212.9" width="1" height="7.2" fill="#0bb793"/><rect x="401.0" y="215.0" width="3" height="1.0" fill="#0bb793"/><rect x="406.0" y="197.8" width="1" height="17.2" fill="#0bb793"/><rect x="405.0" y="203.3" width="3" height="10.7" fill="#0bb793"/><rect x="418.0" y="206.1" width="1" height="7.8" fill="#0bb793"/><rect x="417.0" y="212.9" width="3" height="1.0" fill="#0bb793"/><rect x="422.0" y="208.1" width="1" height="10.0" fill="#0bb793"/><rect x="421.0" y="208.1" width="3" height="3.9" fill="#0bb793"/><rect x="430.0" y="215.0" width="1" height="15.8" fill="#0bb793"/><rect x="429.0" y="216.0" width="3" height="3.8" fill="#0bb793"/><rect x="434.0" y="212.0" width="1" height="6.1" fill="#0bb793"/><rect x="433.0" y="215.0" width="3" height="1.0" fill="#0bb793"/><rect x="438.0" y="209.1" width="1" height="5.9" fill="#0bb793"/><rect x="437.0" y="212.9" width="3" height="1.0" fill="#0bb793"/><rect x="442.0" y="208.1" width="1" height="20.9" fill="#0bb793"/><rect x="441.0" y="210.2" width="3" height="3.7" fill="#0bb793"/><rect x="446.0" y="202.9" width="1" height="18.0" fill="#0bb793"/><rect x="445.0" y="207.0" width="3" height="1.0" fill="#0bb793"/><rect x="450.0" y="195.8" width="1" height="14.1" fill="#0bb793"/><rect x="449.0" y="196.9" width="3" height="9.9" fill="#0bb793"/><rect x="462.0" y="198.9" width="1" height="9.9" fill="#0bb793"/><rect x="461.0" y="200.6" width="3" height="1.1" fill="#0bb793"/><rect x="470.0" y="221.2" width="1" height="13.7" fill="#0bb793"/><rect x="469.0" y="225.0" width="3" height="7.8" fill="#0bb793"/><rect x="478.0" y="209.1" width="1" height="21.9" fill="#0bb793"/><rect x="477.0" y="211.1" width="3" height="14.9" fill="#0bb793"/><rect x="482.0" y="205.1" width="1" height="11.9" fill="#0bb793"/><rect x="481.0" y="210.2" width="3" height="1.1" fill="#0bb793"/><rect x="490.0" y="207.9" width="1" height="6.2" fill="#0bb793"/><rect x="489.0" y="211.3" width="3" height="1.8" fill="#0bb793"/><rect x="494.0" y="204.9" width="1" height="5.1" fill="#0bb793"/><rect x="493.0" y="209.0" width="3" height="1.0" fill="#0bb793"/><rect x="498.0" y="201.0" width="1" height="9.0" fill="#0bb793"/><rect x="497.0" y="204.9" width="3" height="3.0" fill="#0bb793"/><rect x="514.0" y="211.1" width="1" height="8.9" fill="#0bb793"/><rect x="513.0" y="213.1" width="3" height="3.9" fill="#0bb793"/><rect x="526.0" y="212.0" width="1" height="18.0" fill="#0bb793"/><rect x="525.0" y="214.1" width="3" height="11.0" fill="#0bb793"/><rect x="538.0" y="209.0" width="1" height="38.0" fill="#0bb793"/><rect x="537.0" y="213.1" width="3" height="14.0" fill="#0bb793"/><rect x="550.0" y="213.1" width="1" height="14.8" fill="#0bb793"/><rect x="549.0" y="216.1" width="3" height="8.0" fill="#0bb793"/><rect x="554.0" y="207.9" width="1" height="8.2" fill="#0bb793"/><rect x="553.0" y="212.0" width="3" height="3.2" fill="#0bb793"/><rect x="558.0" y="203.9" width="1" height="8.1" fill="#0bb793"/><rect x="557.0" y="205.8" width="3" height="5.3" fill="#0bb793"/><rect x="566.0" y="211.1" width="1" height="5.9" fill="#0bb793"/><rect x="565.0" y="213.4" width="3" height="1.4" fill="#0bb793"/><rect x="574.0" y="207.9" width="1" height="16.2" fill="#0bb793"/><rect x="573.0" y="207.9" width="3" height="12.1" fill="#0bb793"/><rect x="582.0" y="210.0" width="1" height="4.9" fill="#0bb793"/><rect x="581.0" y="214.0" width="3" height="1.0" fill="#0bb793"/><rect x="590.0" y="203.9" width="1" height="11.0" fill="#0bb793"/><rect x="589.0" y="205.6" width="3" height="9.3" fill="#0bb793"/><rect x="602.0" y="215.2" width="1" height="3.7" fill="#0bb793"/><rect x="601.0" y="217.9" width="3" height="1.0" fill="#0bb793"/><rect x="610.0" y="215.9" width="1" height="7.2" fill="#0bb793"/><rect x="609.0" y="217.2" width="3" height="1.0" fill="#0bb793"/><rect x="614.0" y="213.1" width="1" height="7.8" fill="#0bb793"/><rect x="613.0" y="213.1" width="3" height="4.8" fill="#0bb793"/><rect x="618.0" y="210.0" width="1" height="4.1" fill="#0bb793"/><rect x="617.0" y="211.1" width="3" height="1.0" fill="#0bb793"/><rect x="622.0" y="179.1" width="1" height="32.9" fill="#0bb793"/><rect x="621.0" y="189.1" width="3" height="20.9" fill="#0bb793"/><rect x="626.0" y="182.0" width="1" height="13.0" fill="#0bb793"/><rect x="625.0" y="188.8" width="3" height="1.3" fill="#0bb793"/><rect x="630.0" y="175.1" width="1" height="18.8" fill="#0bb793"/><rect x="629.0" y="179.1" width="3" height="8.6" fill="#0bb793"/><rect x="638.0" y="181.0" width="1" height="9.0" fill="#0bb793"/><rect x="637.0" y="182.9" width="3" height="1.9" fill="#0bb793"/><rect x="642.0" y="175.8" width="1" height="13.8" fill="#0bb793"/><rect x="641.0" y="175.8" width="3" height="6.2" fill="#0bb793"/><rect x="646.0" y="172.0" width="1" height="7.1" fill="#0bb793"/><rect x="645.0" y="173.3" width="3" height="2.5" fill="#0bb793"/><rect x="650.0" y="163.7" width="1" height="10.4" fill="#0bb793"/><rect x="649.0" y="164.7" width="3" height="8.6" fill="#0bb793"/><rect x="654.0" y="85.1" width="1" height="40.8" fill="#0bb793"/><rect x="653.0" y="90.2" width="3" height="16.7" fill="#0bb793"/><rect x="666.0" y="111.0" width="1" height="21.0" fill="#0bb793"/><rect x="665.0" y="113.9" width="3" height="12.0" fill="#0bb793"/><rect x="670.0" y="101.2" width="1" height="12.7" fill="#0bb793"/><rect x="669.0" y="101.2" width="3" height="11.6" fill="#0bb793"/><rect x="678.0" y="102.1" width="1" height="14.8" fill="#0bb793"/><rect x="677.0" y="102.1" width="3" height="5.7" fill="#0bb793"/><rect x="682.0" y="87.0" width="1" height="16.0" fill="#0bb793"/><rect x="681.0" y="88.1" width="3" height="12.8" fill="#0bb793"/><rect x="686.0" y="68.9" width="1" height="21.0" fill="#0bb793"/><rect x="685.0" y="76.9" width="3" height="10.1" fill="#0bb793"/><rect x="706.0" y="80.9" width="1" height="12.0" fill="#0bb793"/><rect x="705.0" y="82.9" width="3" height="8.2" fill="#0bb793"/><rect x="726.0" y="130.0" width="1" height="19.9" fill="#0bb793"/><rect x="725.0" y="137.9" width="3" height="11.0" fill="#0bb793"/><rect x="730.0" y="132.0" width="1" height="15.8" fill="#0bb793"/><rect x="729.0" y="133.0" width="3" height="4.9" fill="#0bb793"/><rect x="734.0" y="121.1" width="1" height="11.9" fill="#0bb793"/><rect x="733.0" y="122.8" width="3" height="9.2" fill="#0bb793"/><rect x="738.0" y="113.9" width="1" height="11.0" fill="#0bb793"/><rect x="737.0" y="120.0" width="3" height="2.0" fill="#0bb793"/><rect x="746.0" y="113.1" width="1" height="10.7" fill="#0bb793"/><rect x="745.0" y="113.9" width="3" height="1.0" fill="#0bb793"/><rect x="750.0" y="103.9" width="1" height="15.1" fill="#0bb793"/><rect x="749.0" y="112.8" width="3" height="1.1" fill="#0bb793"/><rect x="758.0" y="100.1" width="1" height="21.0" fill="#0bb793"/><rect x="757.0" y="100.9" width="3" height="17.0" fill="#0bb793"/><rect x="778.0" y="123.1" width="1" height="14.8" fill="#0bb793"/><rect x="777.0" y="124.9" width="3" height="12.2" fill="#0bb793"/><rect x="798.0" y="187.9" width="1" height="54.0" fill="#0bb793"/><rect x="797.0" y="189.9" width="3" height="48.1" fill="#0bb793"/><rect x="810.0" y="268.1" width="1" height="61.8" fill="#0bb793"/><rect x="809.0" y="269.1" width="3" height="33.8" fill="#0bb793"/><rect x="814.0" y="245.1" width="1" height="26.7" fill="#0bb793"/><rect x="813.0" y="264.0" width="3" height="5.1" fill="#0bb793"/><rect x="822.0" y="243.0" width="1" height="35.7" fill="#0bb793"/><rect x="821.0" y="244.0" width="3" height="34.7" fill="#0bb793"/><rect x="838.0" y="248.1" width="1" height="14.8" fill="#0bb793"/><rect x="837.0" y="250.8" width="3" height="9.1" fill="#0bb793"/><rect x="842.0" y="241.0" width="1" height="21.0" fill="#0bb793"/><rect x="841.0" y="241.9" width="3" height="8.0" fill="#0bb793"/><rect x="846.0" y="217.9" width="1" height="24.0" fill="#0bb793"/><rect x="845.0" y="220.0" width="3" height="21.9" fill="#0bb793"/><rect x="854.0" y="217.9" width="1" height="22.1" fill="#0bb793"/><rect x="853.0" y="220.0" width="3" height="11.0" fill="#0bb793"/><rect x="862.0" y="224.1" width="1" height="9.0" fill="#0bb793"/><rect x="861.0" y="228.6" width="3" height="1.0" fill="#0bb793"/><rect x="866.0" y="228.9" width="1" height="24.0" fill="#0bb793"/><rect x="865.0" y="228.9" width="3" height="1.0" fill="#0bb793"/><rect x="870.0" y="219.0" width="1" height="10.0" fill="#0bb793"/><rect x="869.0" y="224.1" width="3" height="4.5" fill="#0bb793"/><rect x="878.0" y="213.9" width="1" height="15.1" fill="#0bb793"/><rect x="877.0" y="214.9" width="3" height="9.2" fill="#0bb793"/><rect x="882.0" y="203.0" width="1" height="14.0" fill="#0bb793"/><rect x="881.0" y="211.1" width="3" height="3.8" fill="#0bb793"/><rect x="886.0" y="203.9" width="1" height="8.0" fill="#0bb793"/><rect x="885.0" y="208.7" width="3" height="1.1" fill="#0bb793"/><rect x="902.0" y="224.9" width="1" height="22.0" fill="#0bb793"/><rect x="901.0" y="234.1" width="3" height="2.8" fill="#0bb793"/><rect x="918.0" y="241.9" width="1" height="10.0" fill="#0bb793"/><rect x="917.0" y="242.8" width="3" height="2.0" fill="#0bb793"/><rect x="926.0" y="238.9" width="1" height="8.0" fill="#0bb793"/><rect x="925.0" y="241.0" width="3" height="3.0" fill="#0bb793"/><rect x="930.0" y="225.1" width="1" height="12.6" fill="#0bb793"/><rect x="929.0" y="226.1" width="3" height="6.8" fill="#0bb793"/><rect x="934.0" y="217.2" width="1" height="11.6" fill="#0bb793"/><rect x="933.0" y="221.3" width="3" height="3.7" fill="#0bb793"/><rect x="942.0" y="208.9" width="1" height="12.0" fill="#0bb793"/><rect x="941.0" y="208.9" width="3" height="12.0" fill="#0bb793"/><rect x="958.0" y="224.0" width="1" height="28.8" fill="#0bb793"/><rect x="957.0" y="224.0" width="3" height="10.3" fill="#0bb793"/><rect x="966.0" y="222.9" width="1" height="20.1" fill="#0bb793"/><rect x="965.0" y="225.8" width="3" height="1.2" fill="#0bb793"/><rect x="974.0" y="224.0" width="1" height="13.0" fill="#0bb793"/><rect x="973.0" y="226.1" width="3" height="1.0" fill="#0bb793"/><rect x="994.0" y="253.9" width="1" height="36.3" fill="#0bb793"/><rect x="993.0" y="263.8" width="3" height="1.0" fill="#0bb793"/><rect x="1006.0" y="275.1" width="1" height="21.0" fill="#0bb793"/><rect x="1005.0" y="285.1" width="3" height="3.8" fill="#0bb793"/><rect x="1014.0" y="269.0" width="1" height="19.9" fill="#0bb793"/><rect x="1013.0" y="281.0" width="3" height="6.1" fill="#0bb793"/><rect x="1018.0" y="275.1" width="1" height="6.8" fill="#0bb793"/><rect x="1017.0" y="275.9" width="3" height="4.1" fill="#0bb793"/><rect x="1030.0" y="239.1" width="1" height="46.9" fill="#0bb793"/><rect x="1029.0" y="243.9" width="3" height="30.9" fill="#0bb793"/><rect x="1038.0" y="240.1" width="1" height="10.0" fill="#0bb793"/><rect x="1037.0" y="246.9" width="3" height="2.1" fill="#0bb793"/><rect x="1054.0" y="253.1" width="1" height="8.9" fill="#0bb793"/><rect x="1053.0" y="253.9" width="3" height="2.1" fill="#0bb793"/><rect x="1066.0" y="270.0" width="1" height="10.0" fill="#0bb793"/><rect x="1065.0" y="270.9" width="3" height="3.2" fill="#0bb793"/><rect x="1074.0" y="267.9" width="1" height="12.1" fill="#0bb793"/><rect x="1073.0" y="277.1" width="3" height="2.1" fill="#0bb793"/><rect x="1078.0" y="247.1" width="1" height="39.8" fill="#0bb793"/><rect x="1077.0" y="277.1" width="3" height="1.0" fill="#0bb793"/><rect x="1082.0" y="245.1" width="1" height="31.8" fill="#0bb793"/><rect x="1081.0" y="246.0" width="3" height="30.9" fill="#0bb793"/><rect x="1086.0" y="222.0" width="1" height="25.8" fill="#0bb793"/><rect x="1085.0" y="240.0" width="3" height="4.8" fill="#0bb793"/><rect x="1094.0" y="234.1" width="1" height="13.7" fill="#0bb793"/><rect x="1093.0" y="240.9" width="3" height="1.0" fill="#0bb793"/><rect x="1098.0" y="224.1" width="1" height="16.9" fill="#0bb793"/><rect x="1097.0" y="227.9" width="3" height="13.1" fill="#0bb793"/><rect x="1114.0" y="261.1" width="1" height="10.7" fill="#0bb793"/><rect x="1113.0" y="265.9" width="3" height="3.2" fill="#0bb793"/><rect x="1122.0" y="246.0" width="1" height="22.8" fill="#0bb793"/><rect x="1121.0" y="262.9" width="3" height="5.9" fill="#0bb793"/><rect x="1134.0" y="259.1" width="1" height="13.8" fill="#0bb793"/><rect x="1133.0" y="269.1" width="3" height="3.8" fill="#0bb793"/><rect x="1142.0" y="256.1" width="1" height="33.9" fill="#0bb793"/><rect x="1141.0" y="270.1" width="3" height="10.9" fill="#0bb793"/><rect x="1146.0" y="264.0" width="1" height="14.0" fill="#0bb793"/><rect x="1145.0" y="265.9" width="3" height="3.2" fill="#0bb793"/><rect x="1150.0" y="259.1" width="1" height="8.9" fill="#0bb793"/><rect x="1149.0" y="262.9" width="3" height="2.1" fill="#0bb793"/><rect x="1158.0" y="249.9" width="1" height="20.2" fill="#0bb793"/><rect x="1157.0" y="251.9" width="3" height="15.8" fill="#0bb793"/><rect x="1162.0" y="238.9" width="1" height="15.1" fill="#0bb793"/><rect x="1161.0" y="240.0" width="3" height="10.8" fill="#0bb793"/><rect x="1170.0" y="234.1" width="1" height="20.9" fill="#0bb793"/><rect x="1169.0" y="234.1" width="3" height="13.7" fill="#0bb793"/><rect x="1182.0" y="212.8" width="1" height="38.0" fill="#0bb793"/><rect x="1181.0" y="212.8" width="3" height="34.1" fill="#0bb793"/><rect x="1194.0" y="224.9" width="1" height="7.1" fill="#0bb793"/><rect x="1193.0" y="225.9" width="3" height="5.1" fill="#0bb793"/><rect x="1198.0" y="217.0" width="1" height="8.9" fill="#0bb793"/><rect x="1197.0" y="217.9" width="3" height="8.0" fill="#0bb793"/><rect x="1206.0" y="215.9" width="1" height="14.1" fill="#0bb793"/><rect x="1205.0" y="215.9" width="3" height="4.1" fill="#0bb793"/><rect x="1210.0" y="207.1" width="1" height="11.9" fill="#0bb793"/><rect x="1209.0" y="213.9" width="3" height="1.1" fill="#0bb793"/><rect x="1226.0" y="211.1" width="1" height="15.9" fill="#0bb793"/><rect x="1225.0" y="211.9" width="3" height="8.1" fill="#0bb793"/><rect x="1230.0" y="187.0" width="1" height="24.9" fill="#0bb793"/><rect x="1229.0" y="200.0" width="3" height="11.9" fill="#0bb793"/><rect x="1238.0" y="180.1" width="1" height="20.8" fill="#0bb793"/><rect x="1237.0" y="187.0" width="3" height="13.0" fill="#0bb793"/><rect x="1246.0" y="182.2" width="1" height="6.8" fill="#0bb793"/><rect x="1245.0" y="186.9" width="3" height="1.0" fill="#0bb793"/><rect x="1254.0" y="200.0" width="1" height="16.9" fill="#0bb793"/><rect x="1253.0" y="205.1" width="3" height="4.8" fill="#0bb793"/><rect x="1266.0" y="206.2" width="1" height="5.7" fill="#0bb793"/><rect x="1265.0" y="207.1" width="3" height="1.8" fill="#0bb793"/><rect x="1270.0" y="192.0" width="1" height="19.9" fill="#0bb793"/><rect x="1269.0" y="194.9" width="3" height="10.2" fill="#0bb793"/><rect x="1278.0" y="192.0" width="1" height="15.9" fill="#0bb793"/><rect x="1277.0" y="193.1" width="3" height="4.8" fill="#0bb793"/><rect x="1286.0" y="199.0" width="1" height="4.8" fill="#0bb793"/><rect x="1285.0" y="200.9" width="3" height="1.1" fill="#0bb793"/><rect x="1306.0" y="207.1" width="1" height="8.9" fill="#0bb793"/><rect x="1305.0" y="211.9" width="3" height="1.1" fill="#0bb793"/><rect x="1322.0" y="215.1" width="1" height="19.9" fill="#0bb793"/><rect x="1321.0" y="218.9" width="3" height="5.1" fill="#0bb793"/><rect x="1326.0" y="206.8" width="1" height="13.1" fill="#0bb793"/><rect x="1325.0" y="215.1" width="3" height="3.0" fill="#0bb793"/><rect x="1334.0" y="218.1" width="1" height="8.0" fill="#0bb793"/><rect x="1333.0" y="218.9" width="3" height="5.1" fill="#0bb793"/><rect x="1342.0" y="218.1" width="1" height="4.8" fill="#0bb793"/><rect x="1341.0" y="220.8" width="3" height="1.0" fill="#0bb793"/><rect x="1346.0" y="214.0" width="1" height="7.9" fill="#0bb793"/><rect x="1345.0" y="214.0" width="3" height="5.9" fill="#0bb793"/><rect x="1362.0" y="228.1" width="1" height="22.0" fill="#0bb793"/><rect x="1361.0" y="234.0" width="3" height="11.0" fill="#0bb793"/><rect x="1366.0" y="221.0" width="1" height="12.2" fill="#0bb793"/><rect x="1365.0" y="222.9" width="3" height="10.3" fill="#0bb793"/><rect x="1374.0" y="232" width="1" height="5" fill="#0bb793"/></g>
<rect x="5" y="233" width="1751" height="1" fill="#d8dbe0"/>
<rect shape-rendering="geometricPrecision" x="4" y="326.6" width="1752" height="1.35" fill="#2277fb"/>
<polyline shape-rendering="geometricPrecision" points="1381.5,234.8 1517.5,282.3 1573.8,262.7 1722.4,324.8" fill="none" stroke="#4d7bee" stroke-width="1.1"/>
<polyline shape-rendering="geometricPrecision" points="1699.2,299.5 1722.4,324.8 1688,326.8" fill="none" stroke="#4d7bee" stroke-width="1.1"/>
<polyline clip-path="url(#cl)" shape-rendering="geometricPrecision" points="3,466.5 7.0,470.5 11.0,467.8 15.0,472.6 19.0,464.7 23.0,473.6 27.0,468.8 31.0,470.8 35.0,475.6 39.0,478.4 43.0,489.5 47.0,482.0 51.0,487.8 55.0,484.4 59.0,488.9 63.0,487.1 67.0,493.2 71.0,490.6 75.0,484.2 79.0,472.7 83.0,475.1 87.0,482.5 91.0,492.0 95.0,493.4 99.0,497.2 103.0,502.0 107.0,498.7 111.0,507.5 115.0,488.6 119.0,490.9 123.0,488.7 127.0,490.0 131.0,491.0 135.0,491.8 139.0,489.2 143.0,486.8 147.0,472.7 151.0,473.1 155.0,472.4 159.0,485.5 163.0,483.0 167.0,471.4 171.0,472.7 175.0,474.7 179.0,467.6 183.0,463.9 187.0,467.0 191.0,467.7 195.0,466.0 199.0,449.7 203.0,462.1 207.0,459.8 211.0,458.6 215.0,454.3 219.0,458.0 223.0,460.6 227.0,468.4 231.0,466.7 235.0,470.2 239.0,469.5 243.0,466.6 247.0,473.2 251.0,474.1 255.0,500.9 259.0,476.9 263.0,479.6 267.0,480.3 271.0,478.3 275.0,474.8 279.0,472.4 283.0,460.2 287.0,461.2 291.0,460.3 295.0,474.1 299.0,489.4 303.0,482.1 307.0,490.8 311.0,486.8 315.0,496.6 319.0,499.9 323.0,504.3 327.0,505.3 331.0,505.8 335.0,508.2 339.0,520.2 343.0,522.3 347.0,532.3 351.0,522.2 355.0,503.3 359.0,511.1 363.0,496.1 367.0,495.9 371.0,505.3 375.0,497.4 379.0,506.5 383.0,503.1 387.0,499.4 391.0,492.1 395.0,490.1 399.0,483.5 403.0,465.7 407.0,464.2 411.0,472.9 415.0,475.1 419.0,482.3 423.0,477.5 427.0,483.0 431.0,485.4 435.0,470.6 439.0,471.0 443.0,472.3 447.0,480.4 451.0,474.6 455.0,477.4 459.0,482.1 463.0,490.3 467.0,511.8 471.0,501.7 475.0,502.8 479.0,495.1 483.0,487.2 487.0,491.9 491.0,490.8 495.0,490.7 499.0,489.8 503.0,493.8 507.0,503.6 511.0,505.4 515.0,500.1 519.0,506.6 523.0,486.3 527.0,483.9 531.0,492.5 535.0,507.7 539.0,495.5 543.0,494.7 547.0,502.0 551.0,498.2 555.0,498.2 559.0,491.8 563.0,493.9 567.0,490.8 571.0,497.8 575.0,484.2 579.0,486.4 583.0,493.2 587.0,484.4 591.0,477.9 595.0,492.9 599.0,494.8 603.0,488.9 607.0,495.9 611.0,498.1 615.0,500.4 619.0,491.5 623.0,474.5 627.0,467.1 631.0,468.3 635.0,467.9 639.0,466.9 643.0,462.9 647.0,465.7 651.0,453.2 655.0,438.8 659.0,458.1 663.0,460.8 667.0,459.4 671.0,458.2 675.0,461.7 679.0,464.3 683.0,462.0 687.0,461.8 691.0,462.4 695.0,463.2 699.0,465.1 703.0,467.4 707.0,467.5 711.0,490.6 715.0,495.6 719.0,497.4 723.0,508.2 727.0,509.7 731.0,504.7 735.0,502.4 739.0,508.5 743.0,518.4 747.0,507.2 751.0,506.2 755.0,507.4 759.0,497.4 763.0,501.5 767.0,502.2 771.0,495.7 775.0,495.1 779.0,482.0 783.0,495.9 787.0,503.6 791.0,514.5 795.0,527.6 799.0,508.2 803.0,518.6 807.0,526.4 811.0,517.2 815.0,519.9 819.0,521.1 823.0,513.5 827.0,512.4 831.0,512.7 835.0,515.7 839.0,509.5 843.0,506.3 847.0,500.1 851.0,491.9 855.0,499.2 859.0,493.2 863.0,470.4 867.0,478.7 871.0,478.7 875.0,472.3 879.0,479.6 883.0,470.9 887.0,461.0 891.0,468.2 895.0,477.2 899.0,489.8 903.0,503.3 907.0,496.6 911.0,511.5 915.0,507.4 919.0,506.7 923.0,507.3 927.0,509.5 931.0,494.2 935.0,498.6 939.0,503.0 943.0,493.4 947.0,488.3 951.0,491.8 955.0,493.3 959.0,486.5 963.0,487.8 967.0,482.7 971.0,480.8 975.0,481.2 979.0,480.1 983.0,482.6 987.0,511.3 991.0,519.8 995.0,518.5 999.0,535.0 1003.0,535.4 1007.0,531.5 1011.0,528.1 1015.0,536.5 1019.0,529.4 1023.0,528.5 1027.0,528.5 1031.0,502.7 1035.0,505.1 1039.0,503.4 1043.0,490.1 1047.0,486.5 1051.0,488.2 1055.0,473.6 1059.0,470.6 1063.0,485.5 1067.0,482.8 1071.0,491.8 1075.0,494.1 1079.0,495.4 1083.0,477.7 1087.0,490.6 1091.0,487.6 1095.0,489.0 1099.0,479.7 1103.0,475.6 1107.0,477.7 1111.0,500.1 1115.0,496.2 1119.0,489.7 1123.0,488.8 1127.0,489.5 1131.0,491.0 1135.0,489.0 1139.0,515.5 1143.0,511.4 1147.0,507.8 1151.0,505.7 1155.0,517.9 1159.0,505.5 1163.0,496.9 1167.0,475.3 1171.0,472.7 1175.0,476.1 1179.0,484.2 1183.0,464.9 1187.0,472.1 1191.0,476.2 1195.0,467.8 1199.0,468.6 1203.0,471.2 1207.0,470.9 1211.0,466.9 1215.0,472.8 1219.0,479.9 1223.0,480.1 1227.0,479.9 1231.0,470.6 1235.0,464.8 1239.0,473.4 1243.0,460.1 1247.0,452.2 1251.0,481.5 1255.0,483.4 1259.0,485.8 1263.0,488.6 1267.0,488.0 1271.0,479.7 1275.0,480.3 1279.0,475.8 1283.0,486.9 1287.0,493.9 1291.0,495.3 1295.0,508.3 1299.0,508.0 1303.0,512.1 1307.0,495.4 1311.0,502.6 1315.0,500.7 1319.0,508.1 1323.0,505.2 1327.0,517.1 1331.0,520.4 1335.0,521.1 1339.0,517.2 1343.0,517.2 1347.0,504.6 1351.0,507.7 1355.0,521.0 1359.0,519.6 1363.0,508.5 1367.0,499.4 1371.0,503.1 1375.0,499.0 1379.0,503.6" fill="none" stroke="#1c22f2" stroke-width="1.3" stroke-linejoin="round"/>
<line x1="5" y1="457.5" x2="1753" y2="457.5" stroke="#a4a6aa" stroke-width="1" stroke-dasharray="3 3"/>
<line x1="5" y1="529.5" x2="1753" y2="529.5" stroke="#a4a6aa" stroke-width="1" stroke-dasharray="3 3"/>
<line x1="5" y1="554.5" x2="1753" y2="554.5" stroke="#a4a6aa" stroke-width="1" stroke-dasharray="3 3"/>
<g><rect x="6.0" y="629.0" width="1" height="15.0" fill="#6f7a86"/><rect x="10.0" y="628.9" width="1" height="15.1" fill="#6f7a86"/><rect x="14.0" y="629.5" width="1" height="14.5" fill="#6f7a86"/><rect x="18.0" y="630.3" width="1" height="13.7" fill="#6f7a86"/><rect x="22.0" y="631.9" width="1" height="12.1" fill="#6f7a86"/><rect x="26.0" y="632.5" width="1" height="11.5" fill="#6f7a86"/><rect x="30.0" y="633.5" width="1" height="10.5" fill="#6f7a86"/><rect x="34.0" y="633.6" width="1" height="10.4" fill="#6f7a86"/><rect x="38.0" y="633.6" width="1" height="10.4" fill="#6f7a86"/><rect x="42.0" y="633.0" width="1" height="11.0" fill="#6f7a86"/><rect x="46.0" y="631.3" width="1" height="12.7" fill="#6f7a86"/><rect x="50.0" y="630.6" width="1" height="13.4" fill="#6f7a86"/><rect x="54.0" y="629.8" width="1" height="14.2" fill="#6f7a86"/><rect x="58.0" y="630.6" width="1" height="13.4" fill="#6f7a86"/><rect x="62.0" y="631.6" width="1" height="12.4" fill="#6f7a86"/><rect x="66.0" y="633.0" width="1" height="11.0" fill="#6f7a86"/><rect x="70.0" y="634.4" width="1" height="9.6" fill="#6f7a86"/><rect x="74.0" y="634.8" width="1" height="9.2" fill="#6f7a86"/><rect x="78.0" y="634.4" width="1" height="9.6" fill="#6f7a86"/><rect x="82.0" y="634.0" width="1" height="10.0" fill="#6f7a86"/><rect x="86.0" y="634.9" width="1" height="9.1" fill="#6f7a86"/><rect x="90.0" y="636.3" width="1" height="7.7" fill="#6f7a86"/><rect x="94.0" y="637.6" width="1" height="6.4" fill="#6f7a86"/><rect x="98.0" y="638.5" width="1" height="5.5" fill="#6f7a86"/><rect x="102.0" y="638.4" width="1" height="5.6" fill="#6f7a86"/><rect x="106.0" y="638.4" width="1" height="5.6" fill="#6f7a86"/><rect x="110.0" y="639.3" width="1" height="4.7" fill="#6f7a86"/><rect x="114.0" y="639.0" width="1" height="5.0" fill="#6f7a86"/><rect x="118.0" y="639.2" width="1" height="4.8" fill="#6f7a86"/><rect x="122.0" y="639.7" width="1" height="4.3" fill="#6f7a86"/><rect x="126.0" y="640.4" width="1" height="3.6" fill="#6f7a86"/><rect x="130.0" y="640.3" width="1" height="3.7" fill="#6f7a86"/><rect x="134.0" y="639.6" width="1" height="4.4" fill="#6f7a86"/><rect x="138.0" y="638.5" width="1" height="5.5" fill="#6f7a86"/><rect x="142.0" y="638.6" width="1" height="5.4" fill="#6f7a86"/><rect x="146.0" y="637.4" width="1" height="6.6" fill="#6f7a86"/><rect x="150.0" y="636.6" width="1" height="7.4" fill="#6f7a86"/><rect x="154.0" y="635.7" width="1" height="8.3" fill="#6f7a86"/><rect x="158.0" y="636.1" width="1" height="7.9" fill="#6f7a86"/><rect x="162.0" y="636.1" width="1" height="7.9" fill="#6f7a86"/><rect x="166.0" y="635.1" width="1" height="8.9" fill="#6f7a86"/><rect x="170.0" y="633.6" width="1" height="10.4" fill="#6f7a86"/><rect x="174.0" y="633.3" width="1" height="10.7" fill="#6f7a86"/><rect x="178.0" y="631.9" width="1" height="12.1" fill="#6f7a86"/><rect x="182.0" y="630.5" width="1" height="13.5" fill="#6f7a86"/><rect x="186.0" y="629.7" width="1" height="14.3" fill="#6f7a86"/><rect x="190.0" y="628.8" width="1" height="15.2" fill="#6f7a86"/><rect x="194.0" y="627.1" width="1" height="16.9" fill="#6f7a86"/><rect x="198.0" y="621.8" width="1" height="22.2" fill="#6f7a86"/><rect x="202.0" y="619.3" width="1" height="24.7" fill="#6f7a86"/><rect x="206.0" y="616.8" width="1" height="27.2" fill="#6f7a86"/><rect x="210.0" y="614.1" width="1" height="29.9" fill="#6f7a86"/><rect x="214.0" y="612.7" width="1" height="31.3" fill="#6f7a86"/><rect x="218.0" y="612.4" width="1" height="31.6" fill="#6f7a86"/><rect x="222.0" y="612.6" width="1" height="31.4" fill="#6f7a86"/><rect x="226.0" y="614.0" width="1" height="30.0" fill="#6f7a86"/><rect x="230.0" y="615.8" width="1" height="28.2" fill="#6f7a86"/><rect x="234.0" y="617.5" width="1" height="26.5" fill="#6f7a86"/><rect x="238.0" y="618.6" width="1" height="25.4" fill="#6f7a86"/><rect x="242.0" y="618.9" width="1" height="25.1" fill="#6f7a86"/><rect x="246.0" y="620.2" width="1" height="23.8" fill="#6f7a86"/><rect x="250.0" y="620.7" width="1" height="23.3" fill="#6f7a86"/><rect x="254.0" y="622.4" width="1" height="21.6" fill="#6f7a86"/><rect x="258.0" y="621.2" width="1" height="22.8" fill="#6f7a86"/><rect x="262.0" y="620.4" width="1" height="23.6" fill="#6f7a86"/><rect x="266.0" y="619.1" width="1" height="24.9" fill="#6f7a86"/><rect x="270.0" y="618.5" width="1" height="25.5" fill="#6f7a86"/><rect x="274.0" y="618.3" width="1" height="25.7" fill="#6f7a86"/><rect x="278.0" y="618.0" width="1" height="26.0" fill="#6f7a86"/><rect x="282.0" y="616.8" width="1" height="27.2" fill="#6f7a86"/><rect x="286.0" y="616.7" width="1" height="27.3" fill="#6f7a86"/><rect x="290.0" y="616.4" width="1" height="27.6" fill="#6f7a86"/><rect x="294.0" y="618.1" width="1" height="25.9" fill="#6f7a86"/><rect x="298.0" y="621.8" width="1" height="22.2" fill="#6f7a86"/><rect x="302.0" y="624.2" width="1" height="19.8" fill="#6f7a86"/><rect x="306.0" y="627.3" width="1" height="16.7" fill="#6f7a86"/><rect x="310.0" y="630.2" width="1" height="13.8" fill="#6f7a86"/><rect x="314.0" y="631.7" width="1" height="12.3" fill="#6f7a86"/><rect x="318.0" y="633.5" width="1" height="10.5" fill="#6f7a86"/><rect x="322.0" y="634.8" width="1" height="9.2" fill="#6f7a86"/><rect x="326.0" y="636.2" width="1" height="7.8" fill="#6f7a86"/><rect x="330.0" y="637.5" width="1" height="6.5" fill="#6f7a86"/><rect x="334.0" y="638.6" width="1" height="5.4" fill="#6f7a86"/><rect x="338.0" y="639.6" width="1" height="4.4" fill="#6f7a86"/><rect x="342.0" y="641.5" width="1" height="2.5" fill="#6f7a86"/><rect x="346.0" y="645.0" width="1" height="0.3" fill="#6f7a86"/><rect x="350.0" y="645.0" width="1" height="2.4" fill="#6f7a86"/><rect x="354.0" y="645.0" width="1" height="2.8" fill="#6f7a86"/><rect x="358.0" y="645.0" width="1" height="3.5" fill="#6f7a86"/><rect x="362.0" y="645.0" width="1" height="2.7" fill="#6f7a86"/><rect x="366.0" y="645.0" width="1" height="2.3" fill="#6f7a86"/><rect x="370.0" y="645.0" width="1" height="2.4" fill="#6f7a86"/><rect x="374.0" y="645.0" width="1" height="1.8" fill="#6f7a86"/><rect x="378.0" y="645.0" width="1" height="2.6" fill="#6f7a86"/><rect x="382.0" y="645.0" width="1" height="2.9" fill="#6f7a86"/><rect x="386.0" y="645.0" width="1" height="2.6" fill="#6f7a86"/><rect x="390.0" y="645.0" width="1" height="1.1" fill="#6f7a86"/><rect x="394.0" y="645.0" width="1" height="0.0" fill="#6f7a86"/><rect x="398.0" y="643.3" width="1" height="0.7" fill="#6f7a86"/><rect x="402.0" y="642.3" width="1" height="1.7" fill="#6f7a86"/><rect x="406.0" y="640.5" width="1" height="3.5" fill="#6f7a86"/><rect x="410.0" y="639.4" width="1" height="4.6" fill="#6f7a86"/><rect x="414.0" y="639.2" width="1" height="4.8" fill="#6f7a86"/><rect x="418.0" y="639.1" width="1" height="4.9" fill="#6f7a86"/><rect x="422.0" y="638.6" width="1" height="5.4" fill="#6f7a86"/><rect x="426.0" y="639.4" width="1" height="4.6" fill="#6f7a86"/><rect x="430.0" y="639.7" width="1" height="4.3" fill="#6f7a86"/><rect x="434.0" y="640.0" width="1" height="4.0" fill="#6f7a86"/><rect x="438.0" y="640.0" width="1" height="4.0" fill="#6f7a86"/><rect x="442.0" y="639.8" width="1" height="4.2" fill="#6f7a86"/><rect x="446.0" y="639.4" width="1" height="4.6" fill="#6f7a86"/><rect x="450.0" y="638.2" width="1" height="5.8" fill="#6f7a86"/><rect x="454.0" y="637.4" width="1" height="6.6" fill="#6f7a86"/><rect x="458.0" y="637.4" width="1" height="6.6" fill="#6f7a86"/><rect x="462.0" y="637.1" width="1" height="6.9" fill="#6f7a86"/><rect x="466.0" y="640.2" width="1" height="3.8" fill="#6f7a86"/><rect x="470.0" y="641.9" width="1" height="2.1" fill="#6f7a86"/><rect x="474.0" y="643.5" width="1" height="0.5" fill="#6f7a86"/><rect x="478.0" y="643.1" width="1" height="0.9" fill="#6f7a86"/><rect x="482.0" y="642.8" width="1" height="1.2" fill="#6f7a86"/><rect x="486.0" y="642.9" width="1" height="1.1" fill="#6f7a86"/><rect x="490.0" y="642.8" width="1" height="1.2" fill="#6f7a86"/><rect x="494.0" y="642.5" width="1" height="1.5" fill="#6f7a86"/><rect x="498.0" y="641.8" width="1" height="2.2" fill="#6f7a86"/><rect x="502.0" y="641.7" width="1" height="2.3" fill="#6f7a86"/><rect x="506.0" y="641.9" width="1" height="2.1" fill="#6f7a86"/><rect x="510.0" y="642.7" width="1" height="1.3" fill="#6f7a86"/><rect x="514.0" y="642.9" width="1" height="1.1" fill="#6f7a86"/><rect x="518.0" y="644.0" width="1" height="0.0" fill="#6f7a86"/><rect x="522.0" y="645.0" width="1" height="0.2" fill="#6f7a86"/><rect x="526.0" y="645.0" width="1" height="0.0" fill="#6f7a86"/><rect x="530.0" y="645.0" width="1" height="1.0" fill="#6f7a86"/><rect x="534.0" y="645.0" width="1" height="1.8" fill="#6f7a86"/><rect x="538.0" y="645.0" width="1" height="1.1" fill="#6f7a86"/><rect x="542.0" y="645.0" width="1" height="0.8" fill="#6f7a86"/><rect x="546.0" y="645.0" width="1" height="1.3" fill="#6f7a86"/><rect x="550.0" y="645.0" width="1" height="0.9" fill="#6f7a86"/><rect x="554.0" y="645.0" width="1" height="0.3" fill="#6f7a86"/><rect x="558.0" y="644.1" width="1" height="0.0" fill="#6f7a86"/><rect x="562.0" y="643.9" width="1" height="0.1" fill="#6f7a86"/><rect x="566.0" y="643.8" width="1" height="0.2" fill="#6f7a86"/><rect x="570.0" y="644.4" width="1" height="0.0" fill="#6f7a86"/><rect x="574.0" y="643.7" width="1" height="0.3" fill="#6f7a86"/><rect x="578.0" y="643.7" width="1" height="0.3" fill="#6f7a86"/><rect x="582.0" y="643.7" width="1" height="0.3" fill="#6f7a86"/><rect x="586.0" y="643.9" width="1" height="0.1" fill="#6f7a86"/><rect x="590.0" y="643.1" width="1" height="0.9" fill="#6f7a86"/><rect x="594.0" y="643.1" width="1" height="0.9" fill="#6f7a86"/><rect x="598.0" y="643.7" width="1" height="0.3" fill="#6f7a86"/><rect x="602.0" y="644.2" width="1" height="0.0" fill="#6f7a86"/><rect x="606.0" y="645.0" width="1" height="0.0" fill="#6f7a86"/><rect x="610.0" y="645.0" width="1" height="0.0" fill="#6f7a86"/><rect x="614.0" y="645.0" width="1" height="0.0" fill="#6f7a86"/><rect x="618.0" y="644.2" width="1" height="0.0" fill="#6f7a86"/><rect x="622.0" y="641.7" width="1" height="2.3" fill="#6f7a86"/><rect x="626.0" y="639.8" width="1" height="4.2" fill="#6f7a86"/><rect x="630.0" y="637.4" width="1" height="6.6" fill="#6f7a86"/><rect x="634.0" y="636.2" width="1" height="7.8" fill="#6f7a86"/><rect x="638.0" y="635.1" width="1" height="8.9" fill="#6f7a86"/><rect x="642.0" y="633.7" width="1" height="10.3" fill="#6f7a86"/><rect x="646.0" y="632.4" width="1" height="11.6" fill="#6f7a86"/><rect x="650.0" y="630.7" width="1" height="13.3" fill="#6f7a86"/><rect x="654.0" y="622.3" width="1" height="21.7" fill="#6f7a86"/><rect x="658.0" y="618.7" width="1" height="25.3" fill="#6f7a86"/><rect x="662.0" y="616.8" width="1" height="27.2" fill="#6f7a86"/><rect x="666.0" y="614.5" width="1" height="29.5" fill="#6f7a86"/><rect x="670.0" y="611.8" width="1" height="32.2" fill="#6f7a86"/><rect x="674.0" y="610.8" width="1" height="33.2" fill="#6f7a86"/><rect x="678.0" y="609.7" width="1" height="34.3" fill="#6f7a86"/><rect x="682.0" y="608.0" width="1" height="36.0" fill="#6f7a86"/><rect x="686.0" y="605.9" width="1" height="38.1" fill="#6f7a86"/><rect x="690.0" y="605.4" width="1" height="38.6" fill="#6f7a86"/><rect x="694.0" y="605.6" width="1" height="38.4" fill="#6f7a86"/><rect x="698.0" y="606.3" width="1" height="37.7" fill="#6f7a86"/><rect x="702.0" y="607.7" width="1" height="36.3" fill="#6f7a86"/><rect x="706.0" y="608.5" width="1" height="35.5" fill="#6f7a86"/><rect x="710.0" y="609.7" width="1" height="34.3" fill="#6f7a86"/><rect x="714.0" y="614.8" width="1" height="29.2" fill="#6f7a86"/><rect x="718.0" y="620.2" width="1" height="23.8" fill="#6f7a86"/><rect x="722.0" y="626.1" width="1" height="17.9" fill="#6f7a86"/><rect x="726.0" y="629.9" width="1" height="14.1" fill="#6f7a86"/><rect x="730.0" y="632.5" width="1" height="11.5" fill="#6f7a86"/><rect x="734.0" y="633.8" width="1" height="10.2" fill="#6f7a86"/><rect x="738.0" y="634.6" width="1" height="9.4" fill="#6f7a86"/><rect x="742.0" y="636.1" width="1" height="7.9" fill="#6f7a86"/><rect x="746.0" y="636.0" width="1" height="8.0" fill="#6f7a86"/><rect x="750.0" y="635.9" width="1" height="8.1" fill="#6f7a86"/><rect x="754.0" y="636.5" width="1" height="7.5" fill="#6f7a86"/><rect x="758.0" y="635.3" width="1" height="8.7" fill="#6f7a86"/><rect x="762.0" y="634.6" width="1" height="9.4" fill="#6f7a86"/><rect x="766.0" y="634.6" width="1" height="9.4" fill="#6f7a86"/><rect x="770.0" y="636.9" width="1" height="7.1" fill="#6f7a86"/><rect x="774.0" y="639.7" width="1" height="4.3" fill="#6f7a86"/><rect x="778.0" y="640.7" width="1" height="3.3" fill="#6f7a86"/><rect x="782.0" y="643.3" width="1" height="0.7" fill="#6f7a86"/><rect x="786.0" y="645.0" width="1" height="1.7" fill="#6f7a86"/><rect x="790.0" y="645.0" width="1" height="5.9" fill="#6f7a86"/><rect x="794.0" y="645.0" width="1" height="15.2" fill="#6f7a86"/><rect x="798.0" y="645.0" width="1" height="17.7" fill="#6f7a86"/><rect x="802.0" y="645.0" width="1" height="23.2" fill="#6f7a86"/><rect x="806.0" y="645.0" width="1" height="34.4" fill="#6f7a86"/><rect x="810.0" y="645.0" width="1" height="39.4" fill="#6f7a86"/><rect x="814.0" y="645.0" width="1" height="42.3" fill="#6f7a86"/><rect x="818.0" y="645.0" width="1" height="45.5" fill="#6f7a86"/><rect x="822.0" y="645.0" width="1" height="44.2" fill="#6f7a86"/><rect x="826.0" y="645.0" width="1" height="43.8" fill="#6f7a86"/><rect x="830.0" y="645.0" width="1" height="44.1" fill="#6f7a86"/><rect x="834.0" y="645.0" width="1" height="44.3" fill="#6f7a86"/><rect x="838.0" y="645.0" width="1" height="41.8" fill="#6f7a86"/><rect x="842.0" y="645.0" width="1" height="38.6" fill="#6f7a86"/><rect x="846.0" y="645.0" width="1" height="33.6" fill="#6f7a86"/><rect x="850.0" y="645.0" width="1" height="30.3" fill="#6f7a86"/><rect x="854.0" y="645.0" width="1" height="26.3" fill="#6f7a86"/><rect x="858.0" y="645.0" width="1" height="23.9" fill="#6f7a86"/><rect x="862.0" y="645.0" width="1" height="21.5" fill="#6f7a86"/><rect x="866.0" y="645.0" width="1" height="19.4" fill="#6f7a86"/><rect x="870.0" y="645.0" width="1" height="17.1" fill="#6f7a86"/><rect x="874.0" y="645.0" width="1" height="15.2" fill="#6f7a86"/><rect x="878.0" y="645.0" width="1" height="12.6" fill="#6f7a86"/><rect x="882.0" y="645.0" width="1" height="10.0" fill="#6f7a86"/><rect x="886.0" y="645.0" width="1" height="7.6" fill="#6f7a86"/><rect x="890.0" y="645.0" width="1" height="6.9" fill="#6f7a86"/><rect x="894.0" y="645.0" width="1" height="6.5" fill="#6f7a86"/><rect x="898.0" y="645.0" width="1" height="7.2" fill="#6f7a86"/><rect x="902.0" y="645.0" width="1" height="7.5" fill="#6f7a86"/><rect x="906.0" y="645.0" width="1" height="7.8" fill="#6f7a86"/><rect x="910.0" y="645.0" width="1" height="8.4" fill="#6f7a86"/><rect x="914.0" y="645.0" width="1" height="9.2" fill="#6f7a86"/><rect x="918.0" y="645.0" width="1" height="9.5" fill="#6f7a86"/><rect x="922.0" y="645.0" width="1" height="9.7" fill="#6f7a86"/><rect x="926.0" y="645.0" width="1" height="9.5" fill="#6f7a86"/><rect x="930.0" y="645.0" width="1" height="7.8" fill="#6f7a86"/><rect x="934.0" y="645.0" width="1" height="5.9" fill="#6f7a86"/><rect x="938.0" y="645.0" width="1" height="4.5" fill="#6f7a86"/><rect x="942.0" y="645.0" width="1" height="2.0" fill="#6f7a86"/><rect x="946.0" y="645.0" width="1" height="0.7" fill="#6f7a86"/><rect x="950.0" y="645.0" width="1" height="0.3" fill="#6f7a86"/><rect x="954.0" y="645.0" width="1" height="1.2" fill="#6f7a86"/><rect x="958.0" y="645.0" width="1" height="0.8" fill="#6f7a86"/><rect x="962.0" y="645.0" width="1" height="0.8" fill="#6f7a86"/><rect x="966.0" y="645.0" width="1" height="0.6" fill="#6f7a86"/><rect x="970.0" y="645.0" width="1" height="0.6" fill="#6f7a86"/><rect x="974.0" y="645.0" width="1" height="0.5" fill="#6f7a86"/><rect x="978.0" y="645.0" width="1" height="0.4" fill="#6f7a86"/><rect x="982.0" y="645.0" width="1" height="0.4" fill="#6f7a86"/><rect x="986.0" y="645.0" width="1" height="2.9" fill="#6f7a86"/><rect x="990.0" y="645.0" width="1" height="5.9" fill="#6f7a86"/><rect x="994.0" y="645.0" width="1" height="8.1" fill="#6f7a86"/><rect x="998.0" y="645.0" width="1" height="11.1" fill="#6f7a86"/><rect x="1002.0" y="645.0" width="1" height="14.2" fill="#6f7a86"/><rect x="1006.0" y="645.0" width="1" height="16.2" fill="#6f7a86"/><rect x="1010.0" y="645.0" width="1" height="17.6" fill="#6f7a86"/><rect x="1014.0" y="645.0" width="1" height="18.1" fill="#6f7a86"/><rect x="1018.0" y="645.0" width="1" height="17.8" fill="#6f7a86"/><rect x="1022.0" y="645.0" width="1" height="17.1" fill="#6f7a86"/><rect x="1026.0" y="645.0" width="1" height="16.6" fill="#6f7a86"/><rect x="1030.0" y="645.0" width="1" height="12.9" fill="#6f7a86"/><rect x="1034.0" y="645.0" width="1" height="10.4" fill="#6f7a86"/><rect x="1038.0" y="645.0" width="1" height="8.1" fill="#6f7a86"/><rect x="1042.0" y="645.0" width="1" height="6.4" fill="#6f7a86"/><rect x="1046.0" y="645.0" width="1" height="5.6" fill="#6f7a86"/><rect x="1050.0" y="645.0" width="1" height="5.0" fill="#6f7a86"/><rect x="1054.0" y="645.0" width="1" height="4.2" fill="#6f7a86"/><rect x="1058.0" y="645.0" width="1" height="4.1" fill="#6f7a86"/><rect x="1062.0" y="645.0" width="1" height="5.4" fill="#6f7a86"/><rect x="1066.0" y="645.0" width="1" height="5.9" fill="#6f7a86"/><rect x="1070.0" y="645.0" width="1" height="7.1" fill="#6f7a86"/><rect x="1074.0" y="645.0" width="1" height="7.7" fill="#6f7a86"/><rect x="1078.0" y="645.0" width="1" height="8.1" fill="#6f7a86"/><rect x="1082.0" y="645.0" width="1" height="5.4" fill="#6f7a86"/><rect x="1086.0" y="645.0" width="1" height="2.6" fill="#6f7a86"/><rect x="1090.0" y="645.0" width="1" height="0.5" fill="#6f7a86"/><rect x="1094.0" y="643.8" width="1" height="0.2" fill="#6f7a86"/><rect x="1098.0" y="641.2" width="1" height="2.8" fill="#6f7a86"/><rect x="1102.0" y="639.3" width="1" height="4.7" fill="#6f7a86"/><rect x="1106.0" y="638.2" width="1" height="5.8" fill="#6f7a86"/><rect x="1110.0" y="640.9" width="1" height="3.1" fill="#6f7a86"/><rect x="1114.0" y="642.8" width="1" height="1.2" fill="#6f7a86"/><rect x="1118.0" y="645.0" width="1" height="0.0" fill="#6f7a86"/><rect x="1122.0" y="645.0" width="1" height="0.4" fill="#6f7a86"/><rect x="1126.0" y="645.0" width="1" height="1.9" fill="#6f7a86"/><rect x="1130.0" y="645.0" width="1" height="3.2" fill="#6f7a86"/><rect x="1134.0" y="645.0" width="1" height="3.8" fill="#6f7a86"/><rect x="1138.0" y="645.0" width="1" height="5.3" fill="#6f7a86"/><rect x="1142.0" y="645.0" width="1" height="5.4" fill="#6f7a86"/><rect x="1146.0" y="645.0" width="1" height="5.0" fill="#6f7a86"/><rect x="1150.0" y="645.0" width="1" height="4.3" fill="#6f7a86"/><rect x="1154.0" y="645.0" width="1" height="4.3" fill="#6f7a86"/><rect x="1158.0" y="645.0" width="1" height="2.6" fill="#6f7a86"/><rect x="1162.0" y="645.0" width="1" height="0.2" fill="#6f7a86"/><rect x="1166.0" y="643.4" width="1" height="0.6" fill="#6f7a86"/><rect x="1170.0" y="641.2" width="1" height="2.8" fill="#6f7a86"/><rect x="1174.0" y="640.1" width="1" height="3.9" fill="#6f7a86"/><rect x="1178.0" y="640.1" width="1" height="3.9" fill="#6f7a86"/><rect x="1182.0" y="636.7" width="1" height="7.3" fill="#6f7a86"/><rect x="1186.0" y="635.3" width="1" height="8.7" fill="#6f7a86"/><rect x="1190.0" y="634.8" width="1" height="9.2" fill="#6f7a86"/><rect x="1194.0" y="634.1" width="1" height="9.9" fill="#6f7a86"/><rect x="1198.0" y="632.9" width="1" height="11.1" fill="#6f7a86"/><rect x="1202.0" y="632.3" width="1" height="11.7" fill="#6f7a86"/><rect x="1206.0" y="631.6" width="1" height="12.4" fill="#6f7a86"/><rect x="1210.0" y="631.0" width="1" height="13.0" fill="#6f7a86"/><rect x="1214.0" y="630.7" width="1" height="13.3" fill="#6f7a86"/><rect x="1218.0" y="631.0" width="1" height="13.0" fill="#6f7a86"/><rect x="1222.0" y="631.6" width="1" height="12.4" fill="#6f7a86"/><rect x="1226.0" y="631.4" width="1" height="12.6" fill="#6f7a86"/><rect x="1230.0" y="630.2" width="1" height="13.8" fill="#6f7a86"/><rect x="1234.0" y="629.5" width="1" height="14.5" fill="#6f7a86"/><rect x="1238.0" y="627.8" width="1" height="16.2" fill="#6f7a86"/><rect x="1242.0" y="626.7" width="1" height="17.3" fill="#6f7a86"/><rect x="1246.0" y="626.0" width="1" height="18.0" fill="#6f7a86"/><rect x="1250.0" y="627.9" width="1" height="16.1" fill="#6f7a86"/><rect x="1254.0" y="629.1" width="1" height="14.9" fill="#6f7a86"/><rect x="1258.0" y="630.7" width="1" height="13.3" fill="#6f7a86"/><rect x="1262.0" y="632.1" width="1" height="11.9" fill="#6f7a86"/><rect x="1266.0" y="633.0" width="1" height="11.0" fill="#6f7a86"/><rect x="1270.0" y="632.7" width="1" height="11.3" fill="#6f7a86"/><rect x="1274.0" y="633.0" width="1" height="11.0" fill="#6f7a86"/><rect x="1278.0" y="632.8" width="1" height="11.2" fill="#6f7a86"/><rect x="1282.0" y="633.6" width="1" height="10.4" fill="#6f7a86"/><rect x="1286.0" y="634.3" width="1" height="9.7" fill="#6f7a86"/><rect x="1290.0" y="635.2" width="1" height="8.8" fill="#6f7a86"/><rect x="1294.0" y="636.2" width="1" height="7.8" fill="#6f7a86"/><rect x="1298.0" y="637.1" width="1" height="6.9" fill="#6f7a86"/><rect x="1302.0" y="638.4" width="1" height="5.6" fill="#6f7a86"/><rect x="1306.0" y="639.6" width="1" height="4.4" fill="#6f7a86"/><rect x="1310.0" y="640.7" width="1" height="3.3" fill="#6f7a86"/><rect x="1314.0" y="641.9" width="1" height="2.1" fill="#6f7a86"/><rect x="1318.0" y="643.6" width="1" height="0.4" fill="#6f7a86"/><rect x="1322.0" y="645.0" width="1" height="0.0" fill="#6f7a86"/><rect x="1326.0" y="645.0" width="1" height="0.0" fill="#6f7a86"/><rect x="1330.0" y="645.0" width="1" height="0.9" fill="#6f7a86"/><rect x="1334.0" y="645.0" width="1" height="1.3" fill="#6f7a86"/><rect x="1338.0" y="645.0" width="1" height="1.8" fill="#6f7a86"/><rect x="1342.0" y="645.0" width="1" height="2.1" fill="#6f7a86"/><rect x="1346.0" y="645.0" width="1" height="1.6" fill="#6f7a86"/><rect x="1350.0" y="645.0" width="1" height="1.7" fill="#6f7a86"/><rect x="1354.0" y="645.0" width="1" height="4.1" fill="#6f7a86"/><rect x="1358.0" y="645.0" width="1" height="6.0" fill="#6f7a86"/><rect x="1362.0" y="645.0" width="1" height="6.4" fill="#6f7a86"/><rect x="1366.0" y="645.0" width="1" height="5.6" fill="#6f7a86"/><rect x="1370.0" y="645.0" width="1" height="5.9" fill="#6f7a86"/><rect x="1374.0" y="645.0" width="1" height="6.1" fill="#6f7a86"/><rect x="1378.0" y="645.0" width="1" height="6.3" fill="#6f7a86"/></g>
<line x1="5" y1="644.5" x2="1753" y2="644.5" stroke="#a4a6aa" stroke-width="1" stroke-dasharray="3 3"/>
<polyline shape-rendering="geometricPrecision" points="4.5,628.4 6.5,629.0 10.5,628.9 14.5,629.5 18.5,630.3 22.5,631.9 26.5,632.5 30.5,633.5 34.5,633.6 38.5,633.6 42.5,633.0 46.5,631.3 50.5,630.6 54.5,629.8 58.5,630.6 62.5,631.6 66.5,633.0 70.5,634.4 74.5,634.8 78.5,634.4 82.5,634.0 86.5,634.9 90.5,636.3 94.5,637.6 98.5,638.5 102.5,638.4 106.5,638.4 110.5,639.3 114.5,639.0 118.5,639.2 122.5,639.7 126.5,640.4 130.5,640.3 134.5,639.6 138.5,638.5 142.5,638.6 146.5,637.4 150.5,636.6 154.5,635.7 158.5,636.1 162.5,636.1 166.5,635.1 170.5,633.6 174.5,633.3 178.5,631.9 182.5,630.5 186.5,629.7 190.5,628.8 194.5,627.1 198.5,621.8 202.5,619.3 206.5,616.8 210.5,614.1 214.5,612.7 218.5,612.4 222.5,612.6 226.5,614.0 230.5,615.8 234.5,617.5 238.5,618.6 242.5,618.9 246.5,620.2 250.5,620.7 254.5,622.4 258.5,621.2 262.5,620.4 266.5,619.1 270.5,618.5 274.5,618.3 278.5,618.0 282.5,616.8 286.5,616.7 290.5,616.4 294.5,618.1 298.5,621.8 302.5,624.2 306.5,627.3 310.5,630.2 314.5,631.7 318.5,633.5 322.5,634.8 326.5,636.2 330.5,637.5 334.5,638.6 338.5,639.6 342.5,641.5 346.5,645.3 350.5,647.4 354.5,647.8 358.5,648.5 362.5,647.7 366.5,647.3 370.5,647.4 374.5,646.8 378.5,647.6 382.5,647.9 386.5,647.6 390.5,646.1 394.5,644.6 398.5,643.3 402.5,642.3 406.5,640.5 410.5,639.4 414.5,639.2 418.5,639.1 422.5,638.6 426.5,639.4 430.5,639.7 434.5,640.0 438.5,640.0 442.5,639.8 446.5,639.4 450.5,638.2 454.5,637.4 458.5,637.4 462.5,637.1 466.5,640.2 470.5,641.9 474.5,643.5 478.5,643.1 482.5,642.8 486.5,642.9 490.5,642.8 494.5,642.5 498.5,641.8 502.5,641.7 506.5,641.9 510.5,642.7 514.5,642.9 518.5,644.0 522.5,645.2 526.5,645.0 530.5,646.0 534.5,646.8 538.5,646.1 542.5,645.8 546.5,646.3 550.5,645.9 554.5,645.3 558.5,644.1 562.5,643.9 566.5,643.8 570.5,644.4 574.5,643.7 578.5,643.7 582.5,643.7 586.5,643.9 590.5,643.1 594.5,643.1 598.5,643.7 602.5,644.2 606.5,644.7 610.5,644.8 614.5,644.6 618.5,644.2 622.5,641.7 626.5,639.8 630.5,637.4 634.5,636.2 638.5,635.1 642.5,633.7 646.5,632.4 650.5,630.7 654.5,622.3 658.5,618.7 662.5,616.8 666.5,614.5 670.5,611.8 674.5,610.8 678.5,609.7 682.5,608.0 686.5,605.9 690.5,605.4 694.5,605.6 698.5,606.3 702.5,607.7 706.5,608.5 710.5,609.7 714.5,614.8 718.5,620.2 722.5,626.1 726.5,629.9 730.5,632.5 734.5,633.8 738.5,634.6 742.5,636.1 746.5,636.0 750.5,635.9 754.5,636.5 758.5,635.3 762.5,634.6 766.5,634.6 770.5,636.9 774.5,639.7 778.5,640.7 782.5,643.3 786.5,646.7 790.5,650.9 794.5,660.2 798.5,662.7 802.5,668.2 806.5,679.4 810.5,684.4 814.5,687.3 818.5,690.5 822.5,689.2 826.5,688.8 830.5,689.1 834.5,689.3 838.5,686.8 842.5,683.6 846.5,678.6 850.5,675.3 854.5,671.3 858.5,668.9 862.5,666.5 866.5,664.4 870.5,662.1 874.5,660.2 878.5,657.6 882.5,655.0 886.5,652.6 890.5,651.9 894.5,651.5 898.5,652.2 902.5,652.5 906.5,652.8 910.5,653.4 914.5,654.2 918.5,654.5 922.5,654.7 926.5,654.5 930.5,652.8 934.5,650.9 938.5,649.5 942.5,647.0 946.5,645.7 950.5,645.3 954.5,646.2 958.5,645.8 962.5,645.8 966.5,645.6 970.5,645.6 974.5,645.5 978.5,645.4 982.5,645.4 986.5,647.9 990.5,650.9 994.5,653.1 998.5,656.1 1002.5,659.2 1006.5,661.2 1010.5,662.6 1014.5,663.1 1018.5,662.8 1022.5,662.1 1026.5,661.6 1030.5,657.9 1034.5,655.4 1038.5,653.1 1042.5,651.4 1046.5,650.6 1050.5,650.0 1054.5,649.2 1058.5,649.1 1062.5,650.4 1066.5,650.9 1070.5,652.1 1074.5,652.7 1078.5,653.1 1082.5,650.4 1086.5,647.6 1090.5,645.5 1094.5,643.8 1098.5,641.2 1102.5,639.3 1106.5,638.2 1110.5,640.9 1114.5,642.8 1118.5,644.6 1122.5,645.4 1126.5,646.9 1130.5,648.2 1134.5,648.8 1138.5,650.3 1142.5,650.4 1146.5,650.0 1150.5,649.3 1154.5,649.3 1158.5,647.6 1162.5,645.2 1166.5,643.4 1170.5,641.2 1174.5,640.1 1178.5,640.1 1182.5,636.7 1186.5,635.3 1190.5,634.8 1194.5,634.1 1198.5,632.9 1202.5,632.3 1206.5,631.6 1210.5,631.0 1214.5,630.7 1218.5,631.0 1222.5,631.6 1226.5,631.4 1230.5,630.2 1234.5,629.5 1238.5,627.8 1242.5,626.7 1246.5,626.0 1250.5,627.9 1254.5,629.1 1258.5,630.7 1262.5,632.1 1266.5,633.0 1270.5,632.7 1274.5,633.0 1278.5,632.8 1282.5,633.6 1286.5,634.3 1290.5,635.2 1294.5,636.2 1298.5,637.1 1302.5,638.4 1306.5,639.6 1310.5,640.7 1314.5,641.9 1318.5,643.6 1322.5,644.5 1326.5,644.8 1330.5,645.9 1334.5,646.3 1338.5,646.8 1342.5,647.1 1346.5,646.6 1350.5,646.7 1354.5,649.1 1358.5,651.0 1362.5,651.4 1366.5,650.6 1370.5,650.9 1374.5,651.1 1378.5,651.3" fill="none" stroke="#e8474a" stroke-width="1.15" stroke-linejoin="round"/>
</svg>
<!-- header -->
<svg style="position:absolute;left:11px;top:15px" width="16" height="16" viewBox="0 0 16 16"><circle cx="8" cy="8" r="6.3" fill="none" stroke="#a9aeb7" stroke-width="1.4"/><rect x="7.4" y="7" width="1.3" height="4.2" fill="#a9aeb7"/><rect x="7.4" y="4.6" width="1.3" height="1.4" fill="#a9aeb7"/></svg>
<div id="gold" style="position:absolute;left:34px;top:15px;font-size:14px;line-height:18px;font-weight:bold;color:#626b77;transform:scaleX(0.868);transform-origin:0 50%">GOLD</div>
<div id="h1" style="position:absolute;left:78px;top:15px;font-size:14px;line-height:18px;color:#a3a9b2;transform:scaleX(0.85);transform-origin:0 50%">H1</div>
<!-- price axis -->
<div class="ax" style="top:61px">5 418.86</div>
<div class="ax" style="top:125px">5 315.27</div>
<div class="ax" style="top:189px">5 211.69</div>
<div class="ax" style="top:253px">5 108.11</div>
<div style="position:absolute;left:1756px;top:223px;width:100px;height:22px;box-sizing:border-box;border:1px solid #d3d8e4;border-radius:4px 0 0 4px;background:#fff"></div>
<div class="ax" style="top:226px;color:#5e6672;-webkit-text-stroke:0.45px #5e6672;letter-spacing:0px">5 151.<span style="color:#0bb793;-webkit-text-stroke:0.45px #0bb793">92</span></div>
<div style="position:absolute;left:1756px;top:317px;width:100px;height:21px;border-radius:4px 0 0 4px;background:#1f79fe"></div>
<div class="ax" style="top:319.6px;font-weight:bold;color:#fff;letter-spacing:-0.12px">5 000.00</div>
<div class="ax" style="top:406px">115</div>
<div class="ax" style="top:470px">62</div>
<div class="ax" style="top:626.3px">15.516124</div>
<div class="sm" style="top:445.5px">80</div>
<div class="sm" style="top:517.5px">20</div>
<div class="sm" style="top:542.5px">0</div>
<div class="sm" style="top:632.8px">0</div>
<!-- tags -->
<svg style="position:absolute;left:670px;top:36px" width="110" height="40" viewBox="670 36 110 40">
<defs><pattern id="dots" width="3" height="3" patternUnits="userSpaceOnUse"><rect width="3" height="3" fill="#eceef2"/><circle cx="1.5" cy="1.5" r="0.55" fill="#fff"/></pattern></defs>
<path d="M681.5 42.2 H759.7 a3 3 0 0 1 3 3 V56.8 a3 3 0 0 1 -3 3 H691.3 L686.2 65.6 V59.8 H681.5 a3 3 0 0 1 -3 -3 V45.2 a3 3 0 0 1 3 -3 Z" fill="url(#dots)" stroke="#b6bac1" stroke-width="1" stroke-dasharray="2 2"/>
<path d="M691.3 59.8 L686.2 65.6 V59.8" fill="none" stroke="#c2c6cc" stroke-width="0.7"/>
</svg>
<div class="tag" id="maxtag" style="left:678px;top:43.6px;width:85px">Max: 5 418.86</div>
<svg style="position:absolute;left:10px;top:350px" width="100" height="36" viewBox="10 350 100 36">
<path d="M18.2 361.2 H22 V355.8 L27.4 361.2 H93.8 a3 3 0 0 1 3 3 V375.9 a3 3 0 0 1 -3 3 H18.2 a3 3 0 0 1 -3 -3 V364.2 a3 3 0 0 1 3 -3 Z" fill="url(#dots)" stroke="#b6bac1" stroke-width="1" stroke-dasharray="2 2"/>
<path d="M22 361.2 V355.8 L27.4 361.2" fill="none" stroke="#c2c6cc" stroke-width="0.7"/>
</svg>
<div class="tag" id="mintag" style="left:15px;top:361.7px;width:82px">Min: 4 960.83</div>
<!-- RSI header -->
<div class="btn" style="left:12px;top:401px"><svg width="20" height="20" viewBox="0 0 20 20"><path d="M3.6 10 C5.5 6.9 7.8 5.75 10 5.75 S14.5 6.9 16.4 10 C14.5 13.1 12.2 14.25 10 14.25 S5.5 13.1 3.6 10Z" fill="none" stroke="#5f6772" stroke-width="1.15"/><circle cx="10" cy="10" r="2.2" fill="none" stroke="#5f6772" stroke-width="1.25"/></svg></div><div class="btn" style="left:35px;top:401px"><svg width="20" height="20" viewBox="0 0 20 20"><circle cx="12.1" cy="7.6" r="3.75" fill="#5f6772"/><path d="M5.0 14.5 L11 9" stroke="#5f6772" stroke-width="2" stroke-linecap="round" fill="none"/><path d="M13.35 7.0 L18 2.35" stroke="#edf0f5" stroke-width="3.3" stroke-linecap="round" fill="none"/></svg></div><div class="btn" style="left:58px;top:401px"><svg width="20" height="20" viewBox="0 0 20 20"><path d="M5.6 5.8 L14.3 14.5 M14.3 5.8 L5.6 14.5" stroke="#5f6772" stroke-width="1.3" fill="none"/></svg></div>
<div class="ttl" id="rsit" style="left:81px;top:404px;transform:scaleX(0.938)">Relative Strength Index</div>
<div class="par" id="rsip" style="left:214.5px;top:404px">(14)</div>
<!-- MACD header -->
<div class="btn" style="left:12px;top:575px"><svg width="20" height="20" viewBox="0 0 20 20"><path d="M3.6 10 C5.5 6.9 7.8 5.75 10 5.75 S14.5 6.9 16.4 10 C14.5 13.1 12.2 14.25 10 14.25 S5.5 13.1 3.6 10Z" fill="none" stroke="#5f6772" stroke-width="1.15"/><circle cx="10" cy="10" r="2.2" fill="none" stroke="#5f6772" stroke-width="1.25"/></svg></div><div class="btn" style="left:35px;top:575px"><svg width="20" height="20" viewBox="0 0 20 20"><circle cx="12.1" cy="7.6" r="3.75" fill="#5f6772"/><path d="M5.0 14.5 L11 9" stroke="#5f6772" stroke-width="2" stroke-linecap="round" fill="none"/><path d="M13.35 7.0 L18 2.35" stroke="#edf0f5" stroke-width="3.3" stroke-linecap="round" fill="none"/></svg></div><div class="btn" style="left:58px;top:575px"><svg width="20" height="20" viewBox="0 0 20 20"><path d="M5.6 5.8 L14.3 14.5 M14.3 5.8 L5.6 14.5" stroke="#5f6772" stroke-width="1.3" fill="none"/></svg></div>
<div class="ttl" id="macdt" style="left:81px;top:578px;transform:scaleX(0.934)">MACD</div>
<div class="par" id="macdp" style="left:124px;top:578px;transform:scaleX(0.946)">(12, 26, 1)</div>
<!-- time axis -->
<div class="tl" style="left:4.5px">19.02 06:00</div>
<div class="tl c" style="left:166.5px">20.02 15:00</div>
<div class="tl c" style="left:294.5px">24.02 02:00</div>
<div class="tl c" style="left:422.5px">25.02 11:00</div>
<div class="tl c" style="left:550.5px">26.02 20:00</div>
<div class="tl c" style="left:678.5px">02.03 07:00</div>
<div class="tl c" style="left:806.5px">03.03 16:00</div>
<div class="tl c" style="left:934.5px">05.03 02:00</div>
<div class="tl c" style="left:1062.5px">06.03 11:00</div>
<div class="tl c" style="left:1190.5px">10.03 05:00</div>
<div class="tl c" style="left:1318.5px">11.03 14:00</div>
<div class="tl c" style="left:1446.5px">12.03 23:00</div>
<div class="tl c" style="left:1574.5px">14.03 07:00</div>
<div class="tl c" style="left:1702.5px">15.03 15:00</div>
</body></html>
